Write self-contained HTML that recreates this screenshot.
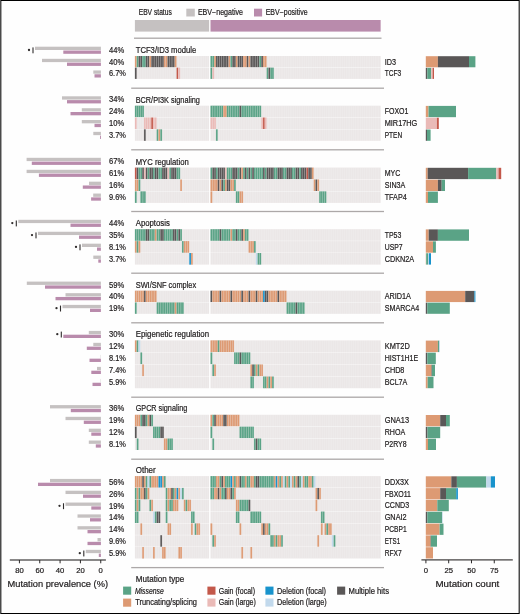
<!DOCTYPE html><html><head><meta charset="utf-8"><style>html,body{margin:0;padding:0;background:#fefefe;}svg{display:block;}text{font-family:"Liberation Sans",sans-serif;fill:#1e1b1c;stroke:#1e1b1c;stroke-width:0.2px;}</style></head><body>
<div style="will-change:transform;width:520px;height:614px;background:#fefefe"><svg width="520" height="614" viewBox="0 0 520 614">
<rect x="0" y="0" width="520" height="614" fill="#fefefe"/>
<text x="138.7" y="14.8" font-size="8.2" textLength="33.1" lengthAdjust="spacingAndGlyphs">EBV status</text>
<rect x="186.3" y="8.7" width="8.5" height="7.8" fill="#c5c1c1"/>
<text x="197.9" y="15.1" font-size="8.2" textLength="45.1" lengthAdjust="spacingAndGlyphs">EBV−negative</text>
<rect x="254" y="8.7" width="8.1" height="7.8" fill="#b98bac"/>
<text x="265.7" y="15.1" font-size="8.2" textLength="41.9" lengthAdjust="spacingAndGlyphs">EBV−positive</text>
<rect x="134.9" y="20" width="74.21" height="11.6" fill="#c5c1c1"/>
<rect x="210.5" y="20" width="170.14" height="11.6" fill="#b98bac"/>
<rect x="134" y="37.55" width="247.5" height="1.3" fill="#aca8a8"/>
<rect x="131.2" y="87.55" width="252.8" height="1.3" fill="#aca8a8"/>
<rect x="131.2" y="149.15" width="252.8" height="1.3" fill="#aca8a8"/>
<rect x="131.2" y="210.85" width="252.8" height="1.3" fill="#aca8a8"/>
<rect x="131.2" y="272.55" width="252.8" height="1.3" fill="#aca8a8"/>
<rect x="131.2" y="322.15" width="252.8" height="1.3" fill="#aca8a8"/>
<rect x="131.2" y="396.55" width="252.8" height="1.3" fill="#aca8a8"/>
<rect x="131.2" y="458.55" width="252.8" height="1.3" fill="#aca8a8"/>
<rect x="131.2" y="566.95" width="252.8" height="1.3" fill="#aca8a8"/>
<text x="135.7" y="52.8" font-size="8.5" textLength="60.6" lengthAdjust="spacingAndGlyphs">TCF3/ID3 module</text>
<rect x="35" y="46.7" width="65.9" height="3.3" fill="#c5c1c1"/>
<rect x="63.3" y="50.5" width="37.6" height="3.3" fill="#b98bac"/>
<text x="109" y="52.7" font-size="8.5" textLength="15.2" lengthAdjust="spacingAndGlyphs">44%</text>
<circle cx="29" cy="50" r="1.15" fill="#2f2c2c"/>
<rect x="32.45" y="47.4" width="1.1" height="5.9" fill="#2f2c2c"/>
<rect x="134.9" y="56" width="74.21" height="11.28" fill="#ebe7e7"/>
<rect x="134.9" y="56" width="1.83" height="11.28" fill="#dd9a73"/>
<rect x="136.71" y="56" width="1.83" height="11.28" fill="#5aa386"/>
<rect x="138.52" y="56" width="1.83" height="11.28" fill="#5a5757"/>
<rect x="140.33" y="56" width="1.83" height="11.28" fill="#5a5757"/>
<rect x="142.14" y="56" width="1.83" height="11.28" fill="#5aa386"/>
<rect x="143.95" y="56" width="1.83" height="11.28" fill="#5aa386"/>
<rect x="145.76" y="56" width="1.83" height="11.28" fill="#5a5757"/>
<rect x="147.57" y="56" width="1.83" height="11.28" fill="#5a5757"/>
<rect x="149.38" y="56" width="1.83" height="11.28" fill="#dd9a73"/>
<rect x="151.19" y="56" width="1.83" height="11.28" fill="#5a5757"/>
<rect x="153" y="56" width="1.83" height="11.28" fill="#5a5757"/>
<rect x="154.81" y="56" width="1.83" height="11.28" fill="#5a5757"/>
<rect x="156.62" y="56" width="1.83" height="11.28" fill="#5a5757"/>
<rect x="158.43" y="56" width="1.83" height="11.28" fill="#5a5757"/>
<rect x="160.24" y="56" width="1.83" height="11.28" fill="#5a5757"/>
<rect x="162.05" y="56" width="1.83" height="11.28" fill="#5a5757"/>
<rect x="163.86" y="56" width="1.83" height="11.28" fill="#dd9a73"/>
<rect x="165.67" y="56" width="1.83" height="11.28" fill="#dd9a73"/>
<rect x="167.48" y="56" width="1.83" height="11.28" fill="#5a5757"/>
<rect x="169.29" y="56" width="1.83" height="11.28" fill="#5a5757"/>
<rect x="171.1" y="56" width="1.83" height="11.28" fill="#5a5757"/>
<rect x="172.91" y="56" width="1.83" height="11.28" fill="#5a5757"/>
<rect x="174.72" y="56" width="1.83" height="11.28" fill="#dd9a73"/>
<rect x="210.5" y="56" width="170.14" height="11.28" fill="#ebe7e7"/>
<rect x="210.5" y="56" width="1.83" height="11.28" fill="#5aa386"/>
<rect x="212.31" y="56" width="1.83" height="11.28" fill="#5aa386"/>
<rect x="214.12" y="56" width="1.83" height="11.28" fill="#dd9a73"/>
<rect x="215.93" y="56" width="1.83" height="11.28" fill="#5a5757"/>
<rect x="217.74" y="56" width="1.83" height="11.28" fill="#5a5757"/>
<rect x="219.55" y="56" width="1.83" height="11.28" fill="#5a5757"/>
<rect x="221.36" y="56" width="1.83" height="11.28" fill="#5a5757"/>
<rect x="223.17" y="56" width="1.83" height="11.28" fill="#5a5757"/>
<rect x="224.98" y="56" width="1.83" height="11.28" fill="#5a5757"/>
<rect x="226.79" y="56" width="1.83" height="11.28" fill="#5a5757"/>
<rect x="228.6" y="56" width="1.83" height="11.28" fill="#dd9a73"/>
<rect x="230.41" y="56" width="1.83" height="11.28" fill="#5aa386"/>
<rect x="232.22" y="56" width="1.83" height="11.28" fill="#5a5757"/>
<rect x="234.03" y="56" width="1.83" height="11.28" fill="#5a5757"/>
<rect x="235.84" y="56" width="1.83" height="11.28" fill="#dd9a73"/>
<rect x="237.65" y="56" width="1.83" height="11.28" fill="#5a5757"/>
<rect x="239.46" y="56" width="1.83" height="11.28" fill="#5a5757"/>
<rect x="241.27" y="56" width="1.83" height="11.28" fill="#5a5757"/>
<rect x="243.08" y="56" width="1.83" height="11.28" fill="#dd9a73"/>
<rect x="244.89" y="56" width="1.83" height="11.28" fill="#dd9a73"/>
<rect x="246.7" y="56" width="1.83" height="11.28" fill="#5a5757"/>
<rect x="248.51" y="56" width="1.83" height="11.28" fill="#dd9a73"/>
<rect x="250.32" y="56" width="1.83" height="11.28" fill="#5a5757"/>
<rect x="252.13" y="56" width="1.83" height="11.28" fill="#5a5757"/>
<rect x="253.94" y="56" width="1.83" height="11.28" fill="#5a5757"/>
<rect x="255.75" y="56" width="1.83" height="11.28" fill="#5a5757"/>
<rect x="257.56" y="56" width="1.83" height="11.28" fill="#5a5757"/>
<rect x="259.37" y="56" width="1.83" height="11.28" fill="#5aa386"/>
<rect x="261.18" y="56" width="1.83" height="11.28" fill="#5a5757"/>
<rect x="262.99" y="56" width="1.83" height="11.28" fill="#dd9a73"/>
<rect x="264.8" y="56" width="1.83" height="11.28" fill="#dd9a73"/>
<text x="384.7" y="64.56" font-size="8.5" textLength="11.3" lengthAdjust="spacingAndGlyphs">ID3</text>
<rect x="42" y="58.81" width="58.9" height="3.3" fill="#c5c1c1"/>
<rect x="67" y="62.61" width="33.9" height="3.3" fill="#b98bac"/>
<text x="109" y="64.81" font-size="8.5" textLength="15.2" lengthAdjust="spacingAndGlyphs">40%</text>
<rect x="425.8" y="56.2" width="12.1" height="11.08" fill="#dd9a73"/>
<rect x="437.9" y="56.2" width="31.1" height="11.08" fill="#5a5757"/>
<rect x="469" y="56.2" width="6.4" height="11.08" fill="#5aa386"/>
<rect x="134.9" y="67.62" width="74.21" height="11.28" fill="#ebe7e7"/>
<rect x="134.9" y="67.62" width="1.83" height="11.28" fill="#5a5757"/>
<rect x="176.53" y="67.62" width="1.83" height="11.28" fill="#c3584a"/>
<rect x="178.34" y="67.62" width="1.83" height="11.28" fill="#eabab7"/>
<rect x="210.5" y="67.62" width="170.14" height="11.28" fill="#ebe7e7"/>
<rect x="210.5" y="67.62" width="1.83" height="11.28" fill="#5aa386"/>
<rect x="212.31" y="67.62" width="1.83" height="11.28" fill="#eabab7"/>
<rect x="266.61" y="67.62" width="1.83" height="11.28" fill="#5aa386"/>
<rect x="268.42" y="67.62" width="1.83" height="11.28" fill="#5a5757"/>
<rect x="270.23" y="67.62" width="1.83" height="11.28" fill="#5aa386"/>
<rect x="272.04" y="67.62" width="1.83" height="11.28" fill="#5aa386"/>
<text x="384.7" y="76.19" font-size="8.5" textLength="16.6" lengthAdjust="spacingAndGlyphs">TCF3</text>
<rect x="93.3" y="70.44" width="7.6" height="3.3" fill="#c5c1c1"/>
<rect x="94.5" y="74.24" width="6.4" height="3.3" fill="#b98bac"/>
<text x="109" y="76.44" font-size="8.5" textLength="16.9" lengthAdjust="spacingAndGlyphs">6.7%</text>
<rect x="425.8" y="67.83" width="1.5" height="11.08" fill="#5a5757"/>
<rect x="427.3" y="67.83" width="3.9" height="11.08" fill="#5aa386"/>
<rect x="431.2" y="67.83" width="1.4" height="11.08" fill="#eabab7"/>
<rect x="432.6" y="67.83" width="1.4" height="11.08" fill="#c3584a"/>
<text x="135.7" y="102.9" font-size="8.5" textLength="64.2" lengthAdjust="spacingAndGlyphs">BCR/PI3K signaling</text>
<rect x="62" y="96.3" width="38.9" height="3.3" fill="#c5c1c1"/>
<rect x="67" y="100.1" width="33.9" height="3.3" fill="#b98bac"/>
<text x="109" y="102.3" font-size="8.5" textLength="15.2" lengthAdjust="spacingAndGlyphs">34%</text>
<rect x="134.9" y="105.7" width="74.21" height="11.47" fill="#ebe7e7"/>
<rect x="134.9" y="105.7" width="1.83" height="11.47" fill="#5aa386"/>
<rect x="136.71" y="105.7" width="1.83" height="11.47" fill="#5aa386"/>
<rect x="138.52" y="105.7" width="1.83" height="11.47" fill="#5aa386"/>
<rect x="140.33" y="105.7" width="1.83" height="11.47" fill="#5aa386"/>
<rect x="142.14" y="105.7" width="1.83" height="11.47" fill="#5aa386"/>
<rect x="210.5" y="105.7" width="170.14" height="11.47" fill="#ebe7e7"/>
<rect x="210.5" y="105.7" width="1.83" height="11.47" fill="#5aa386"/>
<rect x="212.31" y="105.7" width="1.83" height="11.47" fill="#5aa386"/>
<rect x="214.12" y="105.7" width="1.83" height="11.47" fill="#5aa386"/>
<rect x="215.93" y="105.7" width="1.83" height="11.47" fill="#5aa386"/>
<rect x="217.74" y="105.7" width="1.83" height="11.47" fill="#5aa386"/>
<rect x="219.55" y="105.7" width="1.83" height="11.47" fill="#5aa386"/>
<rect x="221.36" y="105.7" width="1.83" height="11.47" fill="#5aa386"/>
<rect x="223.17" y="105.7" width="1.83" height="11.47" fill="#dd9a73"/>
<rect x="224.98" y="105.7" width="1.83" height="11.47" fill="#dd9a73"/>
<rect x="226.79" y="105.7" width="1.83" height="11.47" fill="#5aa386"/>
<rect x="228.6" y="105.7" width="1.83" height="11.47" fill="#5aa386"/>
<rect x="230.41" y="105.7" width="1.83" height="11.47" fill="#5aa386"/>
<rect x="232.22" y="105.7" width="1.83" height="11.47" fill="#5aa386"/>
<rect x="234.03" y="105.7" width="1.83" height="11.47" fill="#5aa386"/>
<rect x="235.84" y="105.7" width="1.83" height="11.47" fill="#5aa386"/>
<rect x="237.65" y="105.7" width="1.83" height="11.47" fill="#5aa386"/>
<rect x="239.46" y="105.7" width="1.83" height="11.47" fill="#5a5757"/>
<rect x="241.27" y="105.7" width="1.83" height="11.47" fill="#5aa386"/>
<rect x="243.08" y="105.7" width="1.83" height="11.47" fill="#5aa386"/>
<rect x="244.89" y="105.7" width="1.83" height="11.47" fill="#5aa386"/>
<rect x="246.7" y="105.7" width="1.83" height="11.47" fill="#5aa386"/>
<rect x="248.51" y="105.7" width="1.83" height="11.47" fill="#5aa386"/>
<rect x="250.32" y="105.7" width="1.83" height="11.47" fill="#5aa386"/>
<rect x="252.13" y="105.7" width="1.83" height="11.47" fill="#5aa386"/>
<rect x="253.94" y="105.7" width="1.83" height="11.47" fill="#5aa386"/>
<rect x="255.75" y="105.7" width="1.83" height="11.47" fill="#5aa386"/>
<rect x="257.56" y="105.7" width="1.83" height="11.47" fill="#5aa386"/>
<rect x="259.37" y="105.7" width="1.83" height="11.47" fill="#5aa386"/>
<text x="384.7" y="114.36" font-size="8.5" textLength="23.7" lengthAdjust="spacingAndGlyphs">FOXO1</text>
<rect x="81.8" y="108.21" width="19.1" height="3.3" fill="#c5c1c1"/>
<rect x="70.5" y="112.01" width="30.4" height="3.3" fill="#b98bac"/>
<text x="109" y="114.21" font-size="8.5" textLength="15.2" lengthAdjust="spacingAndGlyphs">24%</text>
<rect x="425.8" y="105.9" width="2.7" height="11.27" fill="#dd9a73"/>
<rect x="428.5" y="105.9" width="27.5" height="11.27" fill="#5aa386"/>
<rect x="134.9" y="117.52" width="74.21" height="11.47" fill="#ebe7e7"/>
<rect x="134.9" y="117.52" width="1.83" height="11.47" fill="#eabab7"/>
<rect x="143.95" y="117.52" width="1.83" height="11.47" fill="#eabab7"/>
<rect x="145.76" y="117.52" width="1.83" height="11.47" fill="#eabab7"/>
<rect x="147.57" y="117.52" width="1.83" height="11.47" fill="#eabab7"/>
<rect x="149.38" y="117.52" width="1.83" height="11.47" fill="#eabab7"/>
<rect x="151.19" y="117.52" width="1.83" height="11.47" fill="#c3584a"/>
<rect x="153" y="117.52" width="1.83" height="11.47" fill="#eabab7"/>
<rect x="154.81" y="117.52" width="1.83" height="11.47" fill="#eabab7"/>
<rect x="210.5" y="117.52" width="170.14" height="11.47" fill="#ebe7e7"/>
<rect x="210.5" y="117.52" width="1.83" height="11.47" fill="#eabab7"/>
<rect x="212.31" y="117.52" width="1.83" height="11.47" fill="#eabab7"/>
<rect x="214.12" y="117.52" width="1.83" height="11.47" fill="#eabab7"/>
<rect x="261.18" y="117.52" width="1.83" height="11.47" fill="#eabab7"/>
<rect x="262.99" y="117.52" width="1.83" height="11.47" fill="#c3584a"/>
<rect x="264.8" y="117.52" width="1.83" height="11.47" fill="#eabab7"/>
<text x="384.7" y="126.18" font-size="8.5" textLength="32.6" lengthAdjust="spacingAndGlyphs">MIR17HG</text>
<rect x="81.8" y="120.03" width="19.1" height="3.3" fill="#c5c1c1"/>
<rect x="94.5" y="123.83" width="6.4" height="3.3" fill="#b98bac"/>
<text x="109" y="126.03" font-size="8.5" textLength="15.2" lengthAdjust="spacingAndGlyphs">10%</text>
<rect x="425.8" y="117.72" width="11.1" height="11.27" fill="#eabab7"/>
<rect x="436.9" y="117.72" width="1.9" height="11.27" fill="#c3584a"/>
<rect x="134.9" y="129.33" width="74.21" height="11.47" fill="#ebe7e7"/>
<rect x="143.95" y="129.33" width="1.83" height="11.47" fill="#5a5757"/>
<rect x="156.62" y="129.33" width="1.83" height="11.47" fill="#5aa386"/>
<rect x="158.43" y="129.33" width="1.83" height="11.47" fill="#dd9a73"/>
<rect x="160.24" y="129.33" width="1.83" height="11.47" fill="#5aa386"/>
<rect x="210.5" y="129.33" width="170.14" height="11.47" fill="#ebe7e7"/>
<rect x="215.93" y="129.33" width="1.83" height="11.47" fill="#5aa386"/>
<text x="384.7" y="137.99" font-size="8.5" textLength="17.4" lengthAdjust="spacingAndGlyphs">PTEN</text>
<rect x="93.3" y="131.84" width="7.6" height="3.3" fill="#c5c1c1"/>
<rect x="100" y="135.64" width="0.9" height="3.3" fill="#b98bac"/>
<text x="109" y="137.84" font-size="8.5" textLength="16.9" lengthAdjust="spacingAndGlyphs">3.7%</text>
<rect x="425.8" y="129.53" width="1.2" height="11.27" fill="#5a5757"/>
<rect x="427" y="129.53" width="3.6" height="11.27" fill="#5aa386"/>
<text x="135.7" y="164.5" font-size="8.5" textLength="53" lengthAdjust="spacingAndGlyphs">MYC regulation</text>
<rect x="26.6" y="157.8" width="74.3" height="3.3" fill="#c5c1c1"/>
<rect x="31.8" y="161.6" width="69.1" height="3.3" fill="#b98bac"/>
<text x="109" y="163.8" font-size="8.5" textLength="15.2" lengthAdjust="spacingAndGlyphs">67%</text>
<rect x="134.9" y="167.6" width="74.21" height="11.53" fill="#ebe7e7"/>
<rect x="134.9" y="167.6" width="1.83" height="11.53" fill="#c3584a"/>
<rect x="136.71" y="167.6" width="1.83" height="11.53" fill="#5a5757"/>
<rect x="138.52" y="167.6" width="1.83" height="11.53" fill="#5aa386"/>
<rect x="140.33" y="167.6" width="1.83" height="11.53" fill="#5aa386"/>
<rect x="142.14" y="167.6" width="1.83" height="11.53" fill="#5a5757"/>
<rect x="143.95" y="167.6" width="1.83" height="11.53" fill="#eabab7"/>
<rect x="145.76" y="167.6" width="1.83" height="11.53" fill="#5a5757"/>
<rect x="147.57" y="167.6" width="1.83" height="11.53" fill="#5aa386"/>
<rect x="149.38" y="167.6" width="1.83" height="11.53" fill="#5a5757"/>
<rect x="151.19" y="167.6" width="1.83" height="11.53" fill="#5a5757"/>
<rect x="153" y="167.6" width="1.83" height="11.53" fill="#5aa386"/>
<rect x="154.81" y="167.6" width="1.83" height="11.53" fill="#5a5757"/>
<rect x="156.62" y="167.6" width="1.83" height="11.53" fill="#5a5757"/>
<rect x="158.43" y="167.6" width="1.83" height="11.53" fill="#5aa386"/>
<rect x="160.24" y="167.6" width="1.83" height="11.53" fill="#5aa386"/>
<rect x="162.05" y="167.6" width="1.83" height="11.53" fill="#5a5757"/>
<rect x="163.86" y="167.6" width="1.83" height="11.53" fill="#5a5757"/>
<rect x="165.67" y="167.6" width="1.83" height="11.53" fill="#5a5757"/>
<rect x="167.48" y="167.6" width="1.83" height="11.53" fill="#eabab7"/>
<rect x="169.29" y="167.6" width="1.83" height="11.53" fill="#5aa386"/>
<rect x="171.1" y="167.6" width="1.83" height="11.53" fill="#5a5757"/>
<rect x="172.91" y="167.6" width="1.83" height="11.53" fill="#5a5757"/>
<rect x="174.72" y="167.6" width="1.83" height="11.53" fill="#5a5757"/>
<rect x="176.53" y="167.6" width="1.83" height="11.53" fill="#5aa386"/>
<rect x="178.34" y="167.6" width="1.83" height="11.53" fill="#5aa386"/>
<rect x="210.5" y="167.6" width="170.14" height="11.53" fill="#ebe7e7"/>
<rect x="210.5" y="167.6" width="1.83" height="11.53" fill="#5aa386"/>
<rect x="212.31" y="167.6" width="1.83" height="11.53" fill="#5a5757"/>
<rect x="214.12" y="167.6" width="1.83" height="11.53" fill="#5a5757"/>
<rect x="215.93" y="167.6" width="1.83" height="11.53" fill="#5aa386"/>
<rect x="217.74" y="167.6" width="1.83" height="11.53" fill="#5a5757"/>
<rect x="219.55" y="167.6" width="1.83" height="11.53" fill="#5a5757"/>
<rect x="221.36" y="167.6" width="1.83" height="11.53" fill="#5a5757"/>
<rect x="223.17" y="167.6" width="1.83" height="11.53" fill="#5a5757"/>
<rect x="224.98" y="167.6" width="1.83" height="11.53" fill="#eabab7"/>
<rect x="226.79" y="167.6" width="1.83" height="11.53" fill="#5aa386"/>
<rect x="228.6" y="167.6" width="1.83" height="11.53" fill="#5aa386"/>
<rect x="230.41" y="167.6" width="1.83" height="11.53" fill="#5aa386"/>
<rect x="232.22" y="167.6" width="1.83" height="11.53" fill="#5a5757"/>
<rect x="234.03" y="167.6" width="1.83" height="11.53" fill="#5a5757"/>
<rect x="235.84" y="167.6" width="1.83" height="11.53" fill="#5a5757"/>
<rect x="237.65" y="167.6" width="1.83" height="11.53" fill="#5aa386"/>
<rect x="239.46" y="167.6" width="1.83" height="11.53" fill="#5a5757"/>
<rect x="241.27" y="167.6" width="1.83" height="11.53" fill="#dd9a73"/>
<rect x="243.08" y="167.6" width="1.83" height="11.53" fill="#5aa386"/>
<rect x="244.89" y="167.6" width="1.83" height="11.53" fill="#5a5757"/>
<rect x="246.7" y="167.6" width="1.83" height="11.53" fill="#5aa386"/>
<rect x="248.51" y="167.6" width="1.83" height="11.53" fill="#5a5757"/>
<rect x="250.32" y="167.6" width="1.83" height="11.53" fill="#5aa386"/>
<rect x="252.13" y="167.6" width="1.83" height="11.53" fill="#5a5757"/>
<rect x="253.94" y="167.6" width="1.83" height="11.53" fill="#5aa386"/>
<rect x="255.75" y="167.6" width="1.83" height="11.53" fill="#5aa386"/>
<rect x="257.56" y="167.6" width="1.83" height="11.53" fill="#5aa386"/>
<rect x="259.37" y="167.6" width="1.83" height="11.53" fill="#5aa386"/>
<rect x="261.18" y="167.6" width="1.83" height="11.53" fill="#5aa386"/>
<rect x="262.99" y="167.6" width="1.83" height="11.53" fill="#5a5757"/>
<rect x="264.8" y="167.6" width="1.83" height="11.53" fill="#5aa386"/>
<rect x="266.61" y="167.6" width="1.83" height="11.53" fill="#5a5757"/>
<rect x="268.42" y="167.6" width="1.83" height="11.53" fill="#5a5757"/>
<rect x="270.23" y="167.6" width="1.83" height="11.53" fill="#5a5757"/>
<rect x="272.04" y="167.6" width="1.83" height="11.53" fill="#5a5757"/>
<rect x="273.85" y="167.6" width="1.83" height="11.53" fill="#5aa386"/>
<rect x="275.66" y="167.6" width="1.83" height="11.53" fill="#5aa386"/>
<rect x="277.47" y="167.6" width="1.83" height="11.53" fill="#5a5757"/>
<rect x="279.28" y="167.6" width="1.83" height="11.53" fill="#5a5757"/>
<rect x="281.09" y="167.6" width="1.83" height="11.53" fill="#5a5757"/>
<rect x="282.9" y="167.6" width="1.83" height="11.53" fill="#5aa386"/>
<rect x="284.71" y="167.6" width="1.83" height="11.53" fill="#5aa386"/>
<rect x="286.52" y="167.6" width="1.83" height="11.53" fill="#5a5757"/>
<rect x="288.33" y="167.6" width="1.83" height="11.53" fill="#5a5757"/>
<rect x="290.14" y="167.6" width="1.83" height="11.53" fill="#5a5757"/>
<rect x="291.95" y="167.6" width="1.83" height="11.53" fill="#5aa386"/>
<rect x="293.76" y="167.6" width="1.83" height="11.53" fill="#5aa386"/>
<rect x="295.57" y="167.6" width="1.83" height="11.53" fill="#5a5757"/>
<rect x="297.38" y="167.6" width="1.83" height="11.53" fill="#5a5757"/>
<rect x="299.19" y="167.6" width="1.83" height="11.53" fill="#5aa386"/>
<rect x="301" y="167.6" width="1.83" height="11.53" fill="#5a5757"/>
<rect x="302.81" y="167.6" width="1.83" height="11.53" fill="#5a5757"/>
<rect x="304.62" y="167.6" width="1.83" height="11.53" fill="#5a5757"/>
<rect x="306.43" y="167.6" width="1.83" height="11.53" fill="#c3584a"/>
<rect x="308.24" y="167.6" width="1.83" height="11.53" fill="#5a5757"/>
<rect x="310.05" y="167.6" width="1.83" height="11.53" fill="#5a5757"/>
<rect x="311.86" y="167.6" width="1.83" height="11.53" fill="#dd9a73"/>
<text x="384.7" y="176.29" font-size="8.5" textLength="15.6" lengthAdjust="spacingAndGlyphs">MYC</text>
<rect x="26.6" y="169.79" width="74.3" height="3.3" fill="#c5c1c1"/>
<rect x="38.9" y="173.59" width="62" height="3.3" fill="#b98bac"/>
<text x="109" y="175.79" font-size="8.5" textLength="15.2" lengthAdjust="spacingAndGlyphs">61%</text>
<rect x="425.8" y="167.8" width="1.9" height="11.33" fill="#dd9a73"/>
<rect x="427.7" y="167.8" width="40.4" height="11.33" fill="#5a5757"/>
<rect x="468.1" y="167.8" width="28.2" height="11.33" fill="#5aa386"/>
<rect x="496.3" y="167.8" width="2.2" height="11.33" fill="#eabab7"/>
<rect x="498.5" y="167.8" width="2.7" height="11.33" fill="#c3584a"/>
<rect x="134.9" y="179.48" width="74.21" height="11.53" fill="#ebe7e7"/>
<rect x="134.9" y="179.48" width="1.83" height="11.53" fill="#dd9a73"/>
<rect x="136.71" y="179.48" width="1.83" height="11.53" fill="#dd9a73"/>
<rect x="138.52" y="179.48" width="1.83" height="11.53" fill="#5aa386"/>
<rect x="180.15" y="179.48" width="1.83" height="11.53" fill="#dd9a73"/>
<rect x="210.5" y="179.48" width="170.14" height="11.53" fill="#ebe7e7"/>
<rect x="210.5" y="179.48" width="1.83" height="11.53" fill="#dd9a73"/>
<rect x="212.31" y="179.48" width="1.83" height="11.53" fill="#dd9a73"/>
<rect x="214.12" y="179.48" width="1.83" height="11.53" fill="#dd9a73"/>
<rect x="215.93" y="179.48" width="1.83" height="11.53" fill="#dd9a73"/>
<rect x="217.74" y="179.48" width="1.83" height="11.53" fill="#5a5757"/>
<rect x="219.55" y="179.48" width="1.83" height="11.53" fill="#dd9a73"/>
<rect x="221.36" y="179.48" width="1.83" height="11.53" fill="#5a5757"/>
<rect x="223.17" y="179.48" width="1.83" height="11.53" fill="#5aa386"/>
<rect x="224.98" y="179.48" width="1.83" height="11.53" fill="#dd9a73"/>
<rect x="226.79" y="179.48" width="1.83" height="11.53" fill="#5a5757"/>
<rect x="228.6" y="179.48" width="1.83" height="11.53" fill="#5a5757"/>
<rect x="230.41" y="179.48" width="1.83" height="11.53" fill="#dd9a73"/>
<rect x="232.22" y="179.48" width="1.83" height="11.53" fill="#dd9a73"/>
<rect x="234.03" y="179.48" width="1.83" height="11.53" fill="#5aa386"/>
<rect x="313.67" y="179.48" width="1.83" height="11.53" fill="#dd9a73"/>
<rect x="315.48" y="179.48" width="1.83" height="11.53" fill="#5a5757"/>
<rect x="317.29" y="179.48" width="1.83" height="11.53" fill="#dd9a73"/>
<text x="384.7" y="188.17" font-size="8.5" textLength="20.6" lengthAdjust="spacingAndGlyphs">SIN3A</text>
<rect x="89" y="181.67" width="11.9" height="3.3" fill="#c5c1c1"/>
<rect x="82.8" y="185.47" width="18.1" height="3.3" fill="#b98bac"/>
<text x="109" y="187.67" font-size="8.5" textLength="15.2" lengthAdjust="spacingAndGlyphs">16%</text>
<rect x="425.8" y="179.68" width="12.1" height="11.33" fill="#dd9a73"/>
<rect x="437.9" y="179.68" width="3.8" height="11.33" fill="#5a5757"/>
<rect x="441.7" y="179.68" width="3.3" height="11.33" fill="#5aa386"/>
<rect x="134.9" y="191.37" width="74.21" height="11.53" fill="#ebe7e7"/>
<rect x="134.9" y="191.37" width="1.83" height="11.53" fill="#5aa386"/>
<rect x="140.33" y="191.37" width="1.83" height="11.53" fill="#5aa386"/>
<rect x="142.14" y="191.37" width="1.83" height="11.53" fill="#5aa386"/>
<rect x="143.95" y="191.37" width="1.83" height="11.53" fill="#5aa386"/>
<rect x="210.5" y="191.37" width="170.14" height="11.53" fill="#ebe7e7"/>
<rect x="210.5" y="191.37" width="1.83" height="11.53" fill="#dd9a73"/>
<rect x="235.84" y="191.37" width="1.83" height="11.53" fill="#5aa386"/>
<rect x="237.65" y="191.37" width="1.83" height="11.53" fill="#5aa386"/>
<rect x="239.46" y="191.37" width="1.83" height="11.53" fill="#dd9a73"/>
<rect x="241.27" y="191.37" width="1.83" height="11.53" fill="#dd9a73"/>
<rect x="319.1" y="191.37" width="1.83" height="11.53" fill="#5aa386"/>
<rect x="320.91" y="191.37" width="1.83" height="11.53" fill="#5aa386"/>
<rect x="322.72" y="191.37" width="1.83" height="11.53" fill="#5aa386"/>
<rect x="324.53" y="191.37" width="1.83" height="11.53" fill="#5aa386"/>
<text x="384.7" y="200.06" font-size="8.5" textLength="22" lengthAdjust="spacingAndGlyphs">TFAP4</text>
<rect x="93.2" y="193.56" width="7.7" height="3.3" fill="#c5c1c1"/>
<rect x="91.1" y="197.36" width="9.8" height="3.3" fill="#b98bac"/>
<text x="109" y="199.56" font-size="8.5" textLength="16.9" lengthAdjust="spacingAndGlyphs">9.6%</text>
<rect x="425.8" y="191.57" width="2.2" height="11.33" fill="#dd9a73"/>
<rect x="428" y="191.57" width="9.9" height="11.33" fill="#5aa386"/>
<text x="135.7" y="225.5" font-size="8.5" textLength="34.2" lengthAdjust="spacingAndGlyphs">Apoptosis</text>
<rect x="18.3" y="219.8" width="82.6" height="3.3" fill="#c5c1c1"/>
<rect x="70.5" y="223.6" width="30.4" height="3.3" fill="#b98bac"/>
<text x="109" y="225.8" font-size="8.5" textLength="15.2" lengthAdjust="spacingAndGlyphs">44%</text>
<circle cx="12.3" cy="223.1" r="1.15" fill="#2f2c2c"/>
<rect x="15.75" y="220.5" width="1.1" height="5.9" fill="#2f2c2c"/>
<rect x="134.9" y="229.2" width="74.21" height="11.57" fill="#ebe7e7"/>
<rect x="134.9" y="229.2" width="1.83" height="11.57" fill="#5aa386"/>
<rect x="136.71" y="229.2" width="1.83" height="11.57" fill="#5aa386"/>
<rect x="138.52" y="229.2" width="1.83" height="11.57" fill="#5aa386"/>
<rect x="140.33" y="229.2" width="1.83" height="11.57" fill="#5aa386"/>
<rect x="142.14" y="229.2" width="1.83" height="11.57" fill="#5aa386"/>
<rect x="143.95" y="229.2" width="1.83" height="11.57" fill="#5aa386"/>
<rect x="145.76" y="229.2" width="1.83" height="11.57" fill="#5a5757"/>
<rect x="147.57" y="229.2" width="1.83" height="11.57" fill="#5a5757"/>
<rect x="149.38" y="229.2" width="1.83" height="11.57" fill="#5aa386"/>
<rect x="151.19" y="229.2" width="1.83" height="11.57" fill="#5aa386"/>
<rect x="153" y="229.2" width="1.83" height="11.57" fill="#5aa386"/>
<rect x="154.81" y="229.2" width="1.83" height="11.57" fill="#dd9a73"/>
<rect x="156.62" y="229.2" width="1.83" height="11.57" fill="#5aa386"/>
<rect x="158.43" y="229.2" width="1.83" height="11.57" fill="#5aa386"/>
<rect x="160.24" y="229.2" width="1.83" height="11.57" fill="#5a5757"/>
<rect x="162.05" y="229.2" width="1.83" height="11.57" fill="#5a5757"/>
<rect x="163.86" y="229.2" width="1.83" height="11.57" fill="#5aa386"/>
<rect x="165.67" y="229.2" width="1.83" height="11.57" fill="#5aa386"/>
<rect x="167.48" y="229.2" width="1.83" height="11.57" fill="#5aa386"/>
<rect x="169.29" y="229.2" width="1.83" height="11.57" fill="#5aa386"/>
<rect x="171.1" y="229.2" width="1.83" height="11.57" fill="#5aa386"/>
<rect x="172.91" y="229.2" width="1.83" height="11.57" fill="#5a5757"/>
<rect x="174.72" y="229.2" width="1.83" height="11.57" fill="#5a5757"/>
<rect x="176.53" y="229.2" width="1.83" height="11.57" fill="#5aa386"/>
<rect x="178.34" y="229.2" width="1.83" height="11.57" fill="#5a5757"/>
<rect x="180.15" y="229.2" width="1.83" height="11.57" fill="#5aa386"/>
<rect x="210.5" y="229.2" width="170.14" height="11.57" fill="#ebe7e7"/>
<rect x="210.5" y="229.2" width="1.83" height="11.57" fill="#5aa386"/>
<rect x="212.31" y="229.2" width="1.83" height="11.57" fill="#5aa386"/>
<rect x="214.12" y="229.2" width="1.83" height="11.57" fill="#5aa386"/>
<rect x="215.93" y="229.2" width="1.83" height="11.57" fill="#5aa386"/>
<rect x="217.74" y="229.2" width="1.83" height="11.57" fill="#5aa386"/>
<rect x="219.55" y="229.2" width="1.83" height="11.57" fill="#5a5757"/>
<rect x="221.36" y="229.2" width="1.83" height="11.57" fill="#5aa386"/>
<rect x="223.17" y="229.2" width="1.83" height="11.57" fill="#5aa386"/>
<rect x="224.98" y="229.2" width="1.83" height="11.57" fill="#5aa386"/>
<rect x="226.79" y="229.2" width="1.83" height="11.57" fill="#5aa386"/>
<rect x="228.6" y="229.2" width="1.83" height="11.57" fill="#5aa386"/>
<rect x="230.41" y="229.2" width="1.83" height="11.57" fill="#dd9a73"/>
<rect x="232.22" y="229.2" width="1.83" height="11.57" fill="#5aa386"/>
<rect x="234.03" y="229.2" width="1.83" height="11.57" fill="#5aa386"/>
<rect x="235.84" y="229.2" width="1.83" height="11.57" fill="#5a5757"/>
<rect x="237.65" y="229.2" width="1.83" height="11.57" fill="#5aa386"/>
<rect x="239.46" y="229.2" width="1.83" height="11.57" fill="#5aa386"/>
<rect x="241.27" y="229.2" width="1.83" height="11.57" fill="#5a5757"/>
<rect x="243.08" y="229.2" width="1.83" height="11.57" fill="#dd9a73"/>
<rect x="244.89" y="229.2" width="1.83" height="11.57" fill="#5aa386"/>
<rect x="246.7" y="229.2" width="1.83" height="11.57" fill="#5aa386"/>
<text x="384.7" y="237.91" font-size="8.5" textLength="16.6" lengthAdjust="spacingAndGlyphs">TP53</text>
<rect x="38" y="231.76" width="62.9" height="3.3" fill="#c5c1c1"/>
<rect x="79" y="235.56" width="21.9" height="3.3" fill="#b98bac"/>
<text x="109" y="237.76" font-size="8.5" textLength="15.2" lengthAdjust="spacingAndGlyphs">35%</text>
<circle cx="32" cy="235.06" r="1.15" fill="#2f2c2c"/>
<rect x="35.45" y="232.46" width="1.1" height="5.9" fill="#2f2c2c"/>
<rect x="425.8" y="229.4" width="2.9" height="11.37" fill="#dd9a73"/>
<rect x="428.7" y="229.4" width="9.2" height="11.37" fill="#5a5757"/>
<rect x="437.9" y="229.4" width="31.1" height="11.37" fill="#5aa386"/>
<rect x="134.9" y="241.12" width="74.21" height="11.57" fill="#ebe7e7"/>
<rect x="134.9" y="241.12" width="1.83" height="11.57" fill="#dd9a73"/>
<rect x="136.71" y="241.12" width="1.83" height="11.57" fill="#5aa386"/>
<rect x="138.52" y="241.12" width="1.83" height="11.57" fill="#dd9a73"/>
<rect x="181.96" y="241.12" width="1.83" height="11.57" fill="#5aa386"/>
<rect x="183.77" y="241.12" width="1.83" height="11.57" fill="#dd9a73"/>
<rect x="185.58" y="241.12" width="1.83" height="11.57" fill="#dd9a73"/>
<rect x="187.39" y="241.12" width="1.83" height="11.57" fill="#dd9a73"/>
<rect x="210.5" y="241.12" width="170.14" height="11.57" fill="#ebe7e7"/>
<rect x="248.51" y="241.12" width="1.83" height="11.57" fill="#dd9a73"/>
<rect x="250.32" y="241.12" width="1.83" height="11.57" fill="#dd9a73"/>
<rect x="252.13" y="241.12" width="1.83" height="11.57" fill="#dd9a73"/>
<rect x="253.94" y="241.12" width="1.83" height="11.57" fill="#5aa386"/>
<text x="384.7" y="249.83" font-size="8.5" textLength="17.9" lengthAdjust="spacingAndGlyphs">USP7</text>
<rect x="82" y="243.68" width="18.9" height="3.3" fill="#c5c1c1"/>
<rect x="97" y="247.47" width="3.9" height="3.3" fill="#b98bac"/>
<text x="109" y="249.68" font-size="8.5" textLength="16.9" lengthAdjust="spacingAndGlyphs">8.1%</text>
<circle cx="76" cy="246.97" r="1.15" fill="#2f2c2c"/>
<rect x="79.45" y="244.38" width="1.1" height="5.9" fill="#2f2c2c"/>
<rect x="425.8" y="241.32" width="7.2" height="11.37" fill="#dd9a73"/>
<rect x="433" y="241.32" width="2.9" height="11.37" fill="#5aa386"/>
<rect x="134.9" y="253.03" width="74.21" height="11.57" fill="#ebe7e7"/>
<rect x="189.2" y="253.03" width="1.83" height="11.57" fill="#1893cc"/>
<rect x="191.01" y="253.03" width="1.83" height="11.57" fill="#dd9a73"/>
<rect x="210.5" y="253.03" width="170.14" height="11.57" fill="#ebe7e7"/>
<rect x="255.75" y="253.03" width="1.83" height="11.57" fill="#c2d9ec"/>
<rect x="257.56" y="253.03" width="1.83" height="11.57" fill="#5aa386"/>
<rect x="259.37" y="253.03" width="1.83" height="11.57" fill="#5aa386"/>
<text x="384.7" y="261.74" font-size="8.5" textLength="29.5" lengthAdjust="spacingAndGlyphs">CDKN2A</text>
<rect x="93.3" y="255.59" width="7.6" height="3.3" fill="#c5c1c1"/>
<rect x="98.3" y="259.39" width="2.6" height="3.3" fill="#b98bac"/>
<text x="109" y="261.59" font-size="8.5" textLength="16.9" lengthAdjust="spacingAndGlyphs">3.7%</text>
<rect x="425.8" y="253.23" width="0.4" height="11.37" fill="#dd9a73"/>
<rect x="426.2" y="253.23" width="1.9" height="11.37" fill="#5aa386"/>
<rect x="428.1" y="253.23" width="0.8" height="11.37" fill="#c2d9ec"/>
<rect x="428.9" y="253.23" width="2.1" height="11.37" fill="#1893cc"/>
<text x="135.7" y="287.5" font-size="8.5" textLength="60.5" lengthAdjust="spacingAndGlyphs">SWI/SNF complex</text>
<rect x="26.8" y="281.6" width="74.1" height="3.3" fill="#c5c1c1"/>
<rect x="45" y="285.4" width="55.9" height="3.3" fill="#b98bac"/>
<text x="109" y="287.6" font-size="8.5" textLength="15.2" lengthAdjust="spacingAndGlyphs">59%</text>
<rect x="134.9" y="290.7" width="74.21" height="11.38" fill="#ebe7e7"/>
<rect x="134.9" y="290.7" width="1.83" height="11.38" fill="#dd9a73"/>
<rect x="136.71" y="290.7" width="1.83" height="11.38" fill="#dd9a73"/>
<rect x="138.52" y="290.7" width="1.83" height="11.38" fill="#dd9a73"/>
<rect x="140.33" y="290.7" width="1.83" height="11.38" fill="#dd9a73"/>
<rect x="142.14" y="290.7" width="1.83" height="11.38" fill="#dd9a73"/>
<rect x="143.95" y="290.7" width="1.83" height="11.38" fill="#5a5757"/>
<rect x="145.76" y="290.7" width="1.83" height="11.38" fill="#dd9a73"/>
<rect x="147.57" y="290.7" width="1.83" height="11.38" fill="#dd9a73"/>
<rect x="149.38" y="290.7" width="1.83" height="11.38" fill="#dd9a73"/>
<rect x="151.19" y="290.7" width="1.83" height="11.38" fill="#dd9a73"/>
<rect x="153" y="290.7" width="1.83" height="11.38" fill="#dd9a73"/>
<rect x="154.81" y="290.7" width="1.83" height="11.38" fill="#dd9a73"/>
<rect x="210.5" y="290.7" width="170.14" height="11.38" fill="#ebe7e7"/>
<rect x="210.5" y="290.7" width="1.83" height="11.38" fill="#5a5757"/>
<rect x="212.31" y="290.7" width="1.83" height="11.38" fill="#dd9a73"/>
<rect x="214.12" y="290.7" width="1.83" height="11.38" fill="#dd9a73"/>
<rect x="215.93" y="290.7" width="1.83" height="11.38" fill="#dd9a73"/>
<rect x="217.74" y="290.7" width="1.83" height="11.38" fill="#dd9a73"/>
<rect x="219.55" y="290.7" width="1.83" height="11.38" fill="#5a5757"/>
<rect x="221.36" y="290.7" width="1.83" height="11.38" fill="#dd9a73"/>
<rect x="223.17" y="290.7" width="1.83" height="11.38" fill="#dd9a73"/>
<rect x="224.98" y="290.7" width="1.83" height="11.38" fill="#dd9a73"/>
<rect x="226.79" y="290.7" width="1.83" height="11.38" fill="#dd9a73"/>
<rect x="228.6" y="290.7" width="1.83" height="11.38" fill="#dd9a73"/>
<rect x="230.41" y="290.7" width="1.83" height="11.38" fill="#5a5757"/>
<rect x="232.22" y="290.7" width="1.83" height="11.38" fill="#dd9a73"/>
<rect x="234.03" y="290.7" width="1.83" height="11.38" fill="#dd9a73"/>
<rect x="235.84" y="290.7" width="1.83" height="11.38" fill="#dd9a73"/>
<rect x="237.65" y="290.7" width="1.83" height="11.38" fill="#dd9a73"/>
<rect x="239.46" y="290.7" width="1.83" height="11.38" fill="#dd9a73"/>
<rect x="241.27" y="290.7" width="1.83" height="11.38" fill="#5a5757"/>
<rect x="243.08" y="290.7" width="1.83" height="11.38" fill="#dd9a73"/>
<rect x="244.89" y="290.7" width="1.83" height="11.38" fill="#dd9a73"/>
<rect x="246.7" y="290.7" width="1.83" height="11.38" fill="#dd9a73"/>
<rect x="248.51" y="290.7" width="1.83" height="11.38" fill="#5a5757"/>
<rect x="250.32" y="290.7" width="1.83" height="11.38" fill="#dd9a73"/>
<rect x="252.13" y="290.7" width="1.83" height="11.38" fill="#dd9a73"/>
<rect x="253.94" y="290.7" width="1.83" height="11.38" fill="#dd9a73"/>
<rect x="255.75" y="290.7" width="1.83" height="11.38" fill="#5a5757"/>
<rect x="257.56" y="290.7" width="1.83" height="11.38" fill="#dd9a73"/>
<rect x="259.37" y="290.7" width="1.83" height="11.38" fill="#dd9a73"/>
<rect x="261.18" y="290.7" width="1.83" height="11.38" fill="#dd9a73"/>
<rect x="262.99" y="290.7" width="1.83" height="11.38" fill="#1893cc"/>
<rect x="264.8" y="290.7" width="1.83" height="11.38" fill="#5a5757"/>
<rect x="266.61" y="290.7" width="1.83" height="11.38" fill="#5a5757"/>
<rect x="268.42" y="290.7" width="1.83" height="11.38" fill="#dd9a73"/>
<rect x="270.23" y="290.7" width="1.83" height="11.38" fill="#dd9a73"/>
<rect x="272.04" y="290.7" width="1.83" height="11.38" fill="#dd9a73"/>
<rect x="273.85" y="290.7" width="1.83" height="11.38" fill="#dd9a73"/>
<rect x="275.66" y="290.7" width="1.83" height="11.38" fill="#dd9a73"/>
<rect x="277.47" y="290.7" width="1.83" height="11.38" fill="#5a5757"/>
<rect x="279.28" y="290.7" width="1.83" height="11.38" fill="#dd9a73"/>
<rect x="281.09" y="290.7" width="1.83" height="11.38" fill="#dd9a73"/>
<rect x="282.9" y="290.7" width="1.83" height="11.38" fill="#dd9a73"/>
<rect x="284.71" y="290.7" width="1.83" height="11.38" fill="#dd9a73"/>
<text x="384.7" y="299.31" font-size="8.5" textLength="26.3" lengthAdjust="spacingAndGlyphs">ARID1A</text>
<rect x="65.5" y="293.16" width="35.4" height="3.3" fill="#c5c1c1"/>
<rect x="55.5" y="296.96" width="45.4" height="3.3" fill="#b98bac"/>
<text x="109" y="299.16" font-size="8.5" textLength="15.2" lengthAdjust="spacingAndGlyphs">40%</text>
<rect x="425.8" y="290.9" width="39.4" height="11.18" fill="#dd9a73"/>
<rect x="465.2" y="290.9" width="9.2" height="11.18" fill="#5a5757"/>
<rect x="474.4" y="290.9" width="1" height="11.18" fill="#1893cc"/>
<rect x="134.9" y="302.43" width="74.21" height="11.38" fill="#ebe7e7"/>
<rect x="134.9" y="302.43" width="1.83" height="11.38" fill="#5aa386"/>
<rect x="156.62" y="302.43" width="1.83" height="11.38" fill="#5aa386"/>
<rect x="158.43" y="302.43" width="1.83" height="11.38" fill="#5aa386"/>
<rect x="160.24" y="302.43" width="1.83" height="11.38" fill="#5aa386"/>
<rect x="162.05" y="302.43" width="1.83" height="11.38" fill="#5aa386"/>
<rect x="163.86" y="302.43" width="1.83" height="11.38" fill="#5aa386"/>
<rect x="165.67" y="302.43" width="1.83" height="11.38" fill="#5aa386"/>
<rect x="167.48" y="302.43" width="1.83" height="11.38" fill="#5aa386"/>
<rect x="169.29" y="302.43" width="1.83" height="11.38" fill="#5aa386"/>
<rect x="171.1" y="302.43" width="1.83" height="11.38" fill="#5aa386"/>
<rect x="172.91" y="302.43" width="1.83" height="11.38" fill="#5aa386"/>
<rect x="174.72" y="302.43" width="1.83" height="11.38" fill="#dd9a73"/>
<rect x="176.53" y="302.43" width="1.83" height="11.38" fill="#5aa386"/>
<rect x="178.34" y="302.43" width="1.83" height="11.38" fill="#5aa386"/>
<rect x="180.15" y="302.43" width="1.83" height="11.38" fill="#5aa386"/>
<rect x="181.96" y="302.43" width="1.83" height="11.38" fill="#5aa386"/>
<rect x="210.5" y="302.43" width="170.14" height="11.38" fill="#ebe7e7"/>
<rect x="286.52" y="302.43" width="1.83" height="11.38" fill="#5aa386"/>
<rect x="288.33" y="302.43" width="1.83" height="11.38" fill="#5aa386"/>
<rect x="290.14" y="302.43" width="1.83" height="11.38" fill="#5aa386"/>
<rect x="291.95" y="302.43" width="1.83" height="11.38" fill="#5aa386"/>
<rect x="293.76" y="302.43" width="1.83" height="11.38" fill="#5aa386"/>
<rect x="295.57" y="302.43" width="1.83" height="11.38" fill="#5a5757"/>
<rect x="297.38" y="302.43" width="1.83" height="11.38" fill="#5aa386"/>
<rect x="299.19" y="302.43" width="1.83" height="11.38" fill="#5aa386"/>
<rect x="301" y="302.43" width="1.83" height="11.38" fill="#5aa386"/>
<rect x="302.81" y="302.43" width="1.83" height="11.38" fill="#5aa386"/>
<text x="384.7" y="311.04" font-size="8.5" textLength="34.6" lengthAdjust="spacingAndGlyphs">SMARCA4</text>
<rect x="62.5" y="304.89" width="38.4" height="3.3" fill="#c5c1c1"/>
<rect x="90" y="308.69" width="10.9" height="3.3" fill="#b98bac"/>
<text x="109" y="310.89" font-size="8.5" textLength="15.2" lengthAdjust="spacingAndGlyphs">19%</text>
<circle cx="56.5" cy="308.19" r="1.15" fill="#2f2c2c"/>
<rect x="59.95" y="305.59" width="1.1" height="5.9" fill="#2f2c2c"/>
<rect x="425.8" y="302.62" width="1.5" height="11.18" fill="#5a5757"/>
<rect x="427.3" y="302.62" width="22.5" height="11.18" fill="#5aa386"/>
<text x="135.7" y="336.8" font-size="8.5" textLength="73.4" lengthAdjust="spacingAndGlyphs">Epigenetic regulation</text>
<rect x="88.8" y="330.9" width="12.1" height="3.3" fill="#c5c1c1"/>
<rect x="63.3" y="334.7" width="37.6" height="3.3" fill="#b98bac"/>
<text x="109" y="336.9" font-size="8.5" textLength="15.2" lengthAdjust="spacingAndGlyphs">30%</text>
<circle cx="57.3" cy="334.2" r="1.15" fill="#2f2c2c"/>
<rect x="60.75" y="331.6" width="1.1" height="5.9" fill="#2f2c2c"/>
<rect x="134.9" y="340.4" width="74.21" height="11.69" fill="#ebe7e7"/>
<rect x="134.9" y="340.4" width="1.83" height="11.69" fill="#dd9a73"/>
<rect x="136.71" y="340.4" width="1.83" height="11.69" fill="#5aa386"/>
<rect x="138.52" y="340.4" width="1.83" height="11.69" fill="#c2d9ec"/>
<rect x="210.5" y="340.4" width="170.14" height="11.69" fill="#ebe7e7"/>
<rect x="210.5" y="340.4" width="1.83" height="11.69" fill="#dd9a73"/>
<rect x="212.31" y="340.4" width="1.83" height="11.69" fill="#dd9a73"/>
<rect x="214.12" y="340.4" width="1.83" height="11.69" fill="#dd9a73"/>
<rect x="215.93" y="340.4" width="1.83" height="11.69" fill="#dd9a73"/>
<rect x="217.74" y="340.4" width="1.83" height="11.69" fill="#5aa386"/>
<rect x="219.55" y="340.4" width="1.83" height="11.69" fill="#dd9a73"/>
<rect x="221.36" y="340.4" width="1.83" height="11.69" fill="#dd9a73"/>
<rect x="223.17" y="340.4" width="1.83" height="11.69" fill="#dd9a73"/>
<rect x="224.98" y="340.4" width="1.83" height="11.69" fill="#dd9a73"/>
<rect x="226.79" y="340.4" width="1.83" height="11.69" fill="#dd9a73"/>
<rect x="228.6" y="340.4" width="1.83" height="11.69" fill="#dd9a73"/>
<rect x="230.41" y="340.4" width="1.83" height="11.69" fill="#dd9a73"/>
<rect x="232.22" y="340.4" width="1.83" height="11.69" fill="#dd9a73"/>
<text x="384.7" y="349.17" font-size="8.5" textLength="25.1" lengthAdjust="spacingAndGlyphs">KMT2D</text>
<rect x="93.3" y="342.82" width="7.6" height="3.3" fill="#c5c1c1"/>
<rect x="86.8" y="346.62" width="14.1" height="3.3" fill="#b98bac"/>
<text x="109" y="348.82" font-size="8.5" textLength="15.2" lengthAdjust="spacingAndGlyphs">12%</text>
<rect x="425.8" y="340.6" width="12.1" height="11.49" fill="#dd9a73"/>
<rect x="437.9" y="340.6" width="1.3" height="11.49" fill="#5aa386"/>
<rect x="439.2" y="340.6" width="0.8" height="11.49" fill="#c2d9ec"/>
<rect x="134.9" y="352.44" width="74.21" height="11.69" fill="#ebe7e7"/>
<rect x="140.33" y="352.44" width="1.83" height="11.69" fill="#5aa386"/>
<rect x="210.5" y="352.44" width="170.14" height="11.69" fill="#ebe7e7"/>
<rect x="210.5" y="352.44" width="1.83" height="11.69" fill="#5aa386"/>
<rect x="234.03" y="352.44" width="1.83" height="11.69" fill="#5aa386"/>
<rect x="235.84" y="352.44" width="1.83" height="11.69" fill="#5aa386"/>
<rect x="237.65" y="352.44" width="1.83" height="11.69" fill="#5aa386"/>
<rect x="239.46" y="352.44" width="1.83" height="11.69" fill="#5a5757"/>
<rect x="241.27" y="352.44" width="1.83" height="11.69" fill="#5aa386"/>
<rect x="243.08" y="352.44" width="1.83" height="11.69" fill="#5aa386"/>
<rect x="244.89" y="352.44" width="1.83" height="11.69" fill="#5aa386"/>
<rect x="246.7" y="352.44" width="1.83" height="11.69" fill="#5aa386"/>
<rect x="248.51" y="352.44" width="1.83" height="11.69" fill="#5aa386"/>
<text x="384.7" y="361.21" font-size="8.5" textLength="33.5" lengthAdjust="spacingAndGlyphs">HIST1H1E</text>
<rect x="100.6" y="354.86" width="0.3" height="3.3" fill="#c5c1c1"/>
<rect x="89.5" y="358.66" width="11.4" height="3.3" fill="#b98bac"/>
<text x="109" y="360.86" font-size="8.5" textLength="16.9" lengthAdjust="spacingAndGlyphs">8.1%</text>
<rect x="425.8" y="352.64" width="1.5" height="11.49" fill="#5a5757"/>
<rect x="427.3" y="352.64" width="8.5" height="11.49" fill="#5aa386"/>
<rect x="134.9" y="364.47" width="74.21" height="11.69" fill="#ebe7e7"/>
<rect x="142.14" y="364.47" width="1.83" height="11.69" fill="#dd9a73"/>
<rect x="210.5" y="364.47" width="170.14" height="11.69" fill="#ebe7e7"/>
<rect x="212.31" y="364.47" width="1.83" height="11.69" fill="#5aa386"/>
<rect x="214.12" y="364.47" width="1.83" height="11.69" fill="#dd9a73"/>
<rect x="250.32" y="364.47" width="1.83" height="11.69" fill="#dd9a73"/>
<rect x="252.13" y="364.47" width="1.83" height="11.69" fill="#5a5757"/>
<rect x="253.94" y="364.47" width="1.83" height="11.69" fill="#5aa386"/>
<rect x="255.75" y="364.47" width="1.83" height="11.69" fill="#dd9a73"/>
<rect x="257.56" y="364.47" width="1.83" height="11.69" fill="#5aa386"/>
<rect x="259.37" y="364.47" width="1.83" height="11.69" fill="#dd9a73"/>
<rect x="261.18" y="364.47" width="1.83" height="11.69" fill="#dd9a73"/>
<text x="384.7" y="373.24" font-size="8.5" textLength="19.7" lengthAdjust="spacingAndGlyphs">CHD8</text>
<rect x="97" y="366.89" width="3.9" height="3.3" fill="#c5c1c1"/>
<rect x="91.3" y="370.69" width="9.6" height="3.3" fill="#b98bac"/>
<text x="109" y="372.89" font-size="8.5" textLength="16.9" lengthAdjust="spacingAndGlyphs">7.4%</text>
<rect x="425.8" y="364.67" width="5.7" height="11.49" fill="#dd9a73"/>
<rect x="431.5" y="364.67" width="0.5" height="11.49" fill="#5a5757"/>
<rect x="432" y="364.67" width="3" height="11.49" fill="#5aa386"/>
<rect x="134.9" y="376.51" width="74.21" height="11.69" fill="#ebe7e7"/>
<rect x="210.5" y="376.51" width="170.14" height="11.69" fill="#ebe7e7"/>
<rect x="250.32" y="376.51" width="1.83" height="11.69" fill="#5aa386"/>
<rect x="252.13" y="376.51" width="1.83" height="11.69" fill="#5aa386"/>
<rect x="262.99" y="376.51" width="1.83" height="11.69" fill="#5aa386"/>
<rect x="264.8" y="376.51" width="1.83" height="11.69" fill="#5aa386"/>
<rect x="266.61" y="376.51" width="1.83" height="11.69" fill="#dd9a73"/>
<rect x="268.42" y="376.51" width="1.83" height="11.69" fill="#5aa386"/>
<rect x="270.23" y="376.51" width="1.83" height="11.69" fill="#dd9a73"/>
<rect x="272.04" y="376.51" width="1.83" height="11.69" fill="#5aa386"/>
<text x="384.7" y="385.28" font-size="8.5" textLength="22.7" lengthAdjust="spacingAndGlyphs">BCL7A</text>
<rect x="100.6" y="378.93" width="0.3" height="3.3" fill="#c5c1c1"/>
<rect x="92.5" y="382.73" width="8.4" height="3.3" fill="#b98bac"/>
<text x="109" y="384.93" font-size="8.5" textLength="16.9" lengthAdjust="spacingAndGlyphs">5.9%</text>
<rect x="425.8" y="376.71" width="1.9" height="11.49" fill="#dd9a73"/>
<rect x="427.7" y="376.71" width="5.8" height="11.49" fill="#5aa386"/>
<text x="135.7" y="411.15" font-size="8.5" textLength="51.5" lengthAdjust="spacingAndGlyphs">GPCR signaling</text>
<rect x="50" y="405.1" width="50.9" height="3.3" fill="#c5c1c1"/>
<rect x="70.8" y="408.9" width="30.1" height="3.3" fill="#b98bac"/>
<text x="109" y="411.1" font-size="8.5" textLength="15.2" lengthAdjust="spacingAndGlyphs">36%</text>
<rect x="134.9" y="414.8" width="74.21" height="11.5" fill="#ebe7e7"/>
<rect x="134.9" y="414.8" width="1.83" height="11.5" fill="#dd9a73"/>
<rect x="136.71" y="414.8" width="1.83" height="11.5" fill="#dd9a73"/>
<rect x="138.52" y="414.8" width="1.83" height="11.5" fill="#dd9a73"/>
<rect x="140.33" y="414.8" width="1.83" height="11.5" fill="#5aa386"/>
<rect x="142.14" y="414.8" width="1.83" height="11.5" fill="#5a5757"/>
<rect x="143.95" y="414.8" width="1.83" height="11.5" fill="#5a5757"/>
<rect x="145.76" y="414.8" width="1.83" height="11.5" fill="#5aa386"/>
<rect x="147.57" y="414.8" width="1.83" height="11.5" fill="#dd9a73"/>
<rect x="149.38" y="414.8" width="1.83" height="11.5" fill="#5a5757"/>
<rect x="151.19" y="414.8" width="1.83" height="11.5" fill="#5aa386"/>
<rect x="210.5" y="414.8" width="170.14" height="11.5" fill="#ebe7e7"/>
<rect x="210.5" y="414.8" width="1.83" height="11.5" fill="#dd9a73"/>
<rect x="212.31" y="414.8" width="1.83" height="11.5" fill="#5aa386"/>
<rect x="214.12" y="414.8" width="1.83" height="11.5" fill="#5a5757"/>
<rect x="215.93" y="414.8" width="1.83" height="11.5" fill="#dd9a73"/>
<rect x="217.74" y="414.8" width="1.83" height="11.5" fill="#dd9a73"/>
<rect x="219.55" y="414.8" width="1.83" height="11.5" fill="#dd9a73"/>
<rect x="221.36" y="414.8" width="1.83" height="11.5" fill="#dd9a73"/>
<rect x="223.17" y="414.8" width="1.83" height="11.5" fill="#5a5757"/>
<rect x="224.98" y="414.8" width="1.83" height="11.5" fill="#5a5757"/>
<rect x="226.79" y="414.8" width="1.83" height="11.5" fill="#dd9a73"/>
<rect x="228.6" y="414.8" width="1.83" height="11.5" fill="#dd9a73"/>
<rect x="230.41" y="414.8" width="1.83" height="11.5" fill="#dd9a73"/>
<rect x="232.22" y="414.8" width="1.83" height="11.5" fill="#dd9a73"/>
<rect x="234.03" y="414.8" width="1.83" height="11.5" fill="#dd9a73"/>
<rect x="235.84" y="414.8" width="1.83" height="11.5" fill="#dd9a73"/>
<rect x="237.65" y="414.8" width="1.83" height="11.5" fill="#dd9a73"/>
<text x="384.7" y="423.48" font-size="8.5" textLength="24.4" lengthAdjust="spacingAndGlyphs">GNA13</text>
<rect x="65.5" y="416.83" width="35.4" height="3.3" fill="#c5c1c1"/>
<rect x="83.8" y="420.63" width="17.1" height="3.3" fill="#b98bac"/>
<text x="109" y="422.83" font-size="8.5" textLength="15.2" lengthAdjust="spacingAndGlyphs">19%</text>
<rect x="425.8" y="415" width="14.4" height="11.3" fill="#dd9a73"/>
<rect x="440.2" y="415" width="5.8" height="11.3" fill="#5a5757"/>
<rect x="446" y="415" width="3.8" height="11.3" fill="#5aa386"/>
<rect x="134.9" y="426.65" width="74.21" height="11.5" fill="#ebe7e7"/>
<rect x="134.9" y="426.65" width="1.83" height="11.5" fill="#5a5757"/>
<rect x="153" y="426.65" width="1.83" height="11.5" fill="#5aa386"/>
<rect x="154.81" y="426.65" width="1.83" height="11.5" fill="#5aa386"/>
<rect x="156.62" y="426.65" width="1.83" height="11.5" fill="#5aa386"/>
<rect x="158.43" y="426.65" width="1.83" height="11.5" fill="#5aa386"/>
<rect x="160.24" y="426.65" width="1.83" height="11.5" fill="#5a5757"/>
<rect x="162.05" y="426.65" width="1.83" height="11.5" fill="#5a5757"/>
<rect x="210.5" y="426.65" width="170.14" height="11.5" fill="#ebe7e7"/>
<rect x="210.5" y="426.65" width="1.83" height="11.5" fill="#5aa386"/>
<rect x="239.46" y="426.65" width="1.83" height="11.5" fill="#5aa386"/>
<rect x="241.27" y="426.65" width="1.83" height="11.5" fill="#5aa386"/>
<rect x="243.08" y="426.65" width="1.83" height="11.5" fill="#5aa386"/>
<rect x="244.89" y="426.65" width="1.83" height="11.5" fill="#5aa386"/>
<rect x="246.7" y="426.65" width="1.83" height="11.5" fill="#5aa386"/>
<rect x="248.51" y="426.65" width="1.83" height="11.5" fill="#5aa386"/>
<rect x="250.32" y="426.65" width="1.83" height="11.5" fill="#5aa386"/>
<rect x="252.13" y="426.65" width="1.83" height="11.5" fill="#5aa386"/>
<text x="384.7" y="435.33" font-size="8.5" textLength="20.5" lengthAdjust="spacingAndGlyphs">RHOA</text>
<rect x="88.8" y="428.68" width="12.1" height="3.3" fill="#c5c1c1"/>
<rect x="91.3" y="432.48" width="9.6" height="3.3" fill="#b98bac"/>
<text x="109" y="434.68" font-size="8.5" textLength="15.2" lengthAdjust="spacingAndGlyphs">12%</text>
<rect x="425.8" y="426.85" width="1.7" height="11.3" fill="#5a5757"/>
<rect x="427.5" y="426.85" width="12.7" height="11.3" fill="#5aa386"/>
<rect x="134.9" y="438.5" width="74.21" height="11.5" fill="#ebe7e7"/>
<rect x="136.71" y="438.5" width="1.83" height="11.5" fill="#5aa386"/>
<rect x="163.86" y="438.5" width="1.83" height="11.5" fill="#dd9a73"/>
<rect x="165.67" y="438.5" width="1.83" height="11.5" fill="#dd9a73"/>
<rect x="167.48" y="438.5" width="1.83" height="11.5" fill="#5aa386"/>
<rect x="169.29" y="438.5" width="1.83" height="11.5" fill="#5aa386"/>
<rect x="171.1" y="438.5" width="1.83" height="11.5" fill="#5aa386"/>
<rect x="210.5" y="438.5" width="170.14" height="11.5" fill="#ebe7e7"/>
<rect x="212.31" y="438.5" width="1.83" height="11.5" fill="#5aa386"/>
<rect x="253.94" y="438.5" width="1.83" height="11.5" fill="#5aa386"/>
<rect x="255.75" y="438.5" width="1.83" height="11.5" fill="#5a5757"/>
<rect x="257.56" y="438.5" width="1.83" height="11.5" fill="#5aa386"/>
<rect x="259.37" y="438.5" width="1.83" height="11.5" fill="#5aa386"/>
<text x="384.7" y="447.18" font-size="8.5" textLength="21.9" lengthAdjust="spacingAndGlyphs">P2RY8</text>
<rect x="88.8" y="440.53" width="12.1" height="3.3" fill="#c5c1c1"/>
<rect x="95.8" y="444.33" width="5.1" height="3.3" fill="#b98bac"/>
<text x="109" y="446.53" font-size="8.5" textLength="16.9" lengthAdjust="spacingAndGlyphs">8.1%</text>
<rect x="425.8" y="438.7" width="2.2" height="11.3" fill="#dd9a73"/>
<rect x="428" y="438.7" width="8" height="11.3" fill="#5aa386"/>
<text x="135.7" y="473.25" font-size="8.5" textLength="20" lengthAdjust="spacingAndGlyphs">Other</text>
<rect x="134.9" y="476.1" width="74.21" height="11.47" fill="#ebe7e7"/>
<rect x="134.9" y="476.1" width="1.83" height="11.47" fill="#dd9a73"/>
<rect x="136.71" y="476.1" width="1.83" height="11.47" fill="#dd9a73"/>
<rect x="138.52" y="476.1" width="1.83" height="11.47" fill="#dd9a73"/>
<rect x="140.33" y="476.1" width="1.83" height="11.47" fill="#dd9a73"/>
<rect x="142.14" y="476.1" width="1.83" height="11.47" fill="#5a5757"/>
<rect x="143.95" y="476.1" width="1.83" height="11.47" fill="#dd9a73"/>
<rect x="145.76" y="476.1" width="1.83" height="11.47" fill="#5aa386"/>
<rect x="147.57" y="476.1" width="1.83" height="11.47" fill="#c2d9ec"/>
<rect x="149.38" y="476.1" width="1.83" height="11.47" fill="#5aa386"/>
<rect x="151.19" y="476.1" width="1.83" height="11.47" fill="#dd9a73"/>
<rect x="153" y="476.1" width="1.83" height="11.47" fill="#dd9a73"/>
<rect x="154.81" y="476.1" width="1.83" height="11.47" fill="#dd9a73"/>
<rect x="156.62" y="476.1" width="1.83" height="11.47" fill="#dd9a73"/>
<rect x="158.43" y="476.1" width="1.83" height="11.47" fill="#1893cc"/>
<rect x="160.24" y="476.1" width="1.83" height="11.47" fill="#1893cc"/>
<rect x="162.05" y="476.1" width="1.83" height="11.47" fill="#dd9a73"/>
<rect x="163.86" y="476.1" width="1.83" height="11.47" fill="#5aa386"/>
<rect x="210.5" y="476.1" width="170.14" height="11.47" fill="#ebe7e7"/>
<rect x="210.5" y="476.1" width="1.83" height="11.47" fill="#5aa386"/>
<rect x="212.31" y="476.1" width="1.83" height="11.47" fill="#5aa386"/>
<rect x="214.12" y="476.1" width="1.83" height="11.47" fill="#5aa386"/>
<rect x="215.93" y="476.1" width="1.83" height="11.47" fill="#dd9a73"/>
<rect x="217.74" y="476.1" width="1.83" height="11.47" fill="#dd9a73"/>
<rect x="219.55" y="476.1" width="1.83" height="11.47" fill="#5aa386"/>
<rect x="221.36" y="476.1" width="1.83" height="11.47" fill="#5a5757"/>
<rect x="223.17" y="476.1" width="1.83" height="11.47" fill="#dd9a73"/>
<rect x="224.98" y="476.1" width="1.83" height="11.47" fill="#5aa386"/>
<rect x="226.79" y="476.1" width="1.83" height="11.47" fill="#5aa386"/>
<rect x="228.6" y="476.1" width="1.83" height="11.47" fill="#5aa386"/>
<rect x="230.41" y="476.1" width="1.83" height="11.47" fill="#1893cc"/>
<rect x="232.22" y="476.1" width="1.83" height="11.47" fill="#dd9a73"/>
<rect x="234.03" y="476.1" width="1.83" height="11.47" fill="#5aa386"/>
<rect x="235.84" y="476.1" width="1.83" height="11.47" fill="#dd9a73"/>
<rect x="237.65" y="476.1" width="1.83" height="11.47" fill="#dd9a73"/>
<rect x="239.46" y="476.1" width="1.83" height="11.47" fill="#5a5757"/>
<rect x="241.27" y="476.1" width="1.83" height="11.47" fill="#5aa386"/>
<rect x="243.08" y="476.1" width="1.83" height="11.47" fill="#5aa386"/>
<rect x="244.89" y="476.1" width="1.83" height="11.47" fill="#dd9a73"/>
<rect x="246.7" y="476.1" width="1.83" height="11.47" fill="#5aa386"/>
<rect x="248.51" y="476.1" width="1.83" height="11.47" fill="#5aa386"/>
<rect x="250.32" y="476.1" width="1.83" height="11.47" fill="#dd9a73"/>
<rect x="252.13" y="476.1" width="1.83" height="11.47" fill="#dd9a73"/>
<rect x="253.94" y="476.1" width="1.83" height="11.47" fill="#5aa386"/>
<rect x="255.75" y="476.1" width="1.83" height="11.47" fill="#5a5757"/>
<rect x="257.56" y="476.1" width="1.83" height="11.47" fill="#5a5757"/>
<rect x="259.37" y="476.1" width="1.83" height="11.47" fill="#5aa386"/>
<rect x="261.18" y="476.1" width="1.83" height="11.47" fill="#5aa386"/>
<rect x="262.99" y="476.1" width="1.83" height="11.47" fill="#5aa386"/>
<rect x="264.8" y="476.1" width="1.83" height="11.47" fill="#5aa386"/>
<rect x="266.61" y="476.1" width="1.83" height="11.47" fill="#5aa386"/>
<rect x="268.42" y="476.1" width="1.83" height="11.47" fill="#5aa386"/>
<rect x="270.23" y="476.1" width="1.83" height="11.47" fill="#5aa386"/>
<rect x="272.04" y="476.1" width="1.83" height="11.47" fill="#5aa386"/>
<rect x="273.85" y="476.1" width="1.83" height="11.47" fill="#dd9a73"/>
<rect x="275.66" y="476.1" width="1.83" height="11.47" fill="#1893cc"/>
<rect x="277.47" y="476.1" width="1.83" height="11.47" fill="#dd9a73"/>
<rect x="279.28" y="476.1" width="1.83" height="11.47" fill="#5aa386"/>
<rect x="281.09" y="476.1" width="1.83" height="11.47" fill="#dd9a73"/>
<rect x="282.9" y="476.1" width="1.83" height="11.47" fill="#c2d9ec"/>
<rect x="284.71" y="476.1" width="1.83" height="11.47" fill="#5aa386"/>
<rect x="286.52" y="476.1" width="1.83" height="11.47" fill="#dd9a73"/>
<rect x="288.33" y="476.1" width="1.83" height="11.47" fill="#5aa386"/>
<rect x="290.14" y="476.1" width="1.83" height="11.47" fill="#c2d9ec"/>
<rect x="291.95" y="476.1" width="1.83" height="11.47" fill="#dd9a73"/>
<rect x="293.76" y="476.1" width="1.83" height="11.47" fill="#5aa386"/>
<rect x="295.57" y="476.1" width="1.83" height="11.47" fill="#dd9a73"/>
<rect x="297.38" y="476.1" width="1.83" height="11.47" fill="#5a5757"/>
<rect x="299.19" y="476.1" width="1.83" height="11.47" fill="#5aa386"/>
<rect x="301" y="476.1" width="1.83" height="11.47" fill="#c2d9ec"/>
<rect x="302.81" y="476.1" width="1.83" height="11.47" fill="#dd9a73"/>
<rect x="304.62" y="476.1" width="1.83" height="11.47" fill="#5aa386"/>
<rect x="306.43" y="476.1" width="1.83" height="11.47" fill="#5aa386"/>
<rect x="308.24" y="476.1" width="1.83" height="11.47" fill="#dd9a73"/>
<rect x="310.05" y="476.1" width="1.83" height="11.47" fill="#dd9a73"/>
<rect x="311.86" y="476.1" width="1.83" height="11.47" fill="#5aa386"/>
<rect x="313.67" y="476.1" width="1.83" height="11.47" fill="#c2d9ec"/>
<text x="384.7" y="484.76" font-size="8.5" textLength="24.1" lengthAdjust="spacingAndGlyphs">DDX3X</text>
<rect x="50" y="478.91" width="50.9" height="3.3" fill="#c5c1c1"/>
<rect x="38" y="482.71" width="62.9" height="3.3" fill="#b98bac"/>
<text x="109" y="484.91" font-size="8.5" textLength="15.2" lengthAdjust="spacingAndGlyphs">56%</text>
<rect x="425.8" y="476.3" width="25.5" height="11.27" fill="#dd9a73"/>
<rect x="451.3" y="476.3" width="5.6" height="11.27" fill="#5a5757"/>
<rect x="456.9" y="476.3" width="29.4" height="11.27" fill="#5aa386"/>
<rect x="486.3" y="476.3" width="4.5" height="11.27" fill="#c2d9ec"/>
<rect x="490.8" y="476.3" width="4.2" height="11.27" fill="#1893cc"/>
<rect x="134.9" y="487.92" width="74.21" height="11.47" fill="#ebe7e7"/>
<rect x="134.9" y="487.92" width="1.83" height="11.47" fill="#5aa386"/>
<rect x="136.71" y="487.92" width="1.83" height="11.47" fill="#dd9a73"/>
<rect x="138.52" y="487.92" width="1.83" height="11.47" fill="#5aa386"/>
<rect x="140.33" y="487.92" width="1.83" height="11.47" fill="#dd9a73"/>
<rect x="142.14" y="487.92" width="1.83" height="11.47" fill="#dd9a73"/>
<rect x="143.95" y="487.92" width="1.83" height="11.47" fill="#5a5757"/>
<rect x="145.76" y="487.92" width="1.83" height="11.47" fill="#5aa386"/>
<rect x="147.57" y="487.92" width="1.83" height="11.47" fill="#dd9a73"/>
<rect x="165.67" y="487.92" width="1.83" height="11.47" fill="#5aa386"/>
<rect x="167.48" y="487.92" width="1.83" height="11.47" fill="#dd9a73"/>
<rect x="169.29" y="487.92" width="1.83" height="11.47" fill="#dd9a73"/>
<rect x="171.1" y="487.92" width="1.83" height="11.47" fill="#5a5757"/>
<rect x="172.91" y="487.92" width="1.83" height="11.47" fill="#5aa386"/>
<rect x="174.72" y="487.92" width="1.83" height="11.47" fill="#dd9a73"/>
<rect x="176.53" y="487.92" width="1.83" height="11.47" fill="#1893cc"/>
<rect x="178.34" y="487.92" width="1.83" height="11.47" fill="#dd9a73"/>
<rect x="180.15" y="487.92" width="1.83" height="11.47" fill="#c2d9ec"/>
<rect x="181.96" y="487.92" width="1.83" height="11.47" fill="#5aa386"/>
<rect x="210.5" y="487.92" width="170.14" height="11.47" fill="#ebe7e7"/>
<rect x="210.5" y="487.92" width="1.83" height="11.47" fill="#5aa386"/>
<rect x="212.31" y="487.92" width="1.83" height="11.47" fill="#5aa386"/>
<rect x="214.12" y="487.92" width="1.83" height="11.47" fill="#dd9a73"/>
<rect x="215.93" y="487.92" width="1.83" height="11.47" fill="#dd9a73"/>
<rect x="217.74" y="487.92" width="1.83" height="11.47" fill="#5a5757"/>
<rect x="219.55" y="487.92" width="1.83" height="11.47" fill="#dd9a73"/>
<rect x="221.36" y="487.92" width="1.83" height="11.47" fill="#5aa386"/>
<rect x="223.17" y="487.92" width="1.83" height="11.47" fill="#5aa386"/>
<rect x="224.98" y="487.92" width="1.83" height="11.47" fill="#5a5757"/>
<rect x="226.79" y="487.92" width="1.83" height="11.47" fill="#dd9a73"/>
<rect x="228.6" y="487.92" width="1.83" height="11.47" fill="#dd9a73"/>
<rect x="230.41" y="487.92" width="1.83" height="11.47" fill="#5a5757"/>
<rect x="232.22" y="487.92" width="1.83" height="11.47" fill="#5aa386"/>
<rect x="234.03" y="487.92" width="1.83" height="11.47" fill="#dd9a73"/>
<rect x="315.48" y="487.92" width="1.83" height="11.47" fill="#dd9a73"/>
<rect x="317.29" y="487.92" width="1.83" height="11.47" fill="#5a5757"/>
<rect x="319.1" y="487.92" width="1.83" height="11.47" fill="#dd9a73"/>
<text x="384.7" y="496.58" font-size="8.5" textLength="26.3" lengthAdjust="spacingAndGlyphs">FBXO11</text>
<rect x="65.5" y="490.73" width="35.4" height="3.3" fill="#c5c1c1"/>
<rect x="83" y="494.53" width="17.9" height="3.3" fill="#b98bac"/>
<text x="109" y="496.73" font-size="8.5" textLength="15.2" lengthAdjust="spacingAndGlyphs">26%</text>
<rect x="425.8" y="488.12" width="14.4" height="11.27" fill="#dd9a73"/>
<rect x="440.2" y="488.12" width="5.8" height="11.27" fill="#5a5757"/>
<rect x="446" y="488.12" width="10.2" height="11.27" fill="#5aa386"/>
<rect x="456.2" y="488.12" width="1.7" height="11.27" fill="#1893cc"/>
<rect x="134.9" y="499.74" width="74.21" height="11.47" fill="#ebe7e7"/>
<rect x="134.9" y="499.74" width="1.83" height="11.47" fill="#5aa386"/>
<rect x="136.71" y="499.74" width="1.83" height="11.47" fill="#dd9a73"/>
<rect x="138.52" y="499.74" width="1.83" height="11.47" fill="#5aa386"/>
<rect x="149.38" y="499.74" width="1.83" height="11.47" fill="#5aa386"/>
<rect x="151.19" y="499.74" width="1.83" height="11.47" fill="#dd9a73"/>
<rect x="165.67" y="499.74" width="1.83" height="11.47" fill="#5aa386"/>
<rect x="167.48" y="499.74" width="1.83" height="11.47" fill="#dd9a73"/>
<rect x="169.29" y="499.74" width="1.83" height="11.47" fill="#5aa386"/>
<rect x="171.1" y="499.74" width="1.83" height="11.47" fill="#5aa386"/>
<rect x="172.91" y="499.74" width="1.83" height="11.47" fill="#dd9a73"/>
<rect x="174.72" y="499.74" width="1.83" height="11.47" fill="#dd9a73"/>
<rect x="176.53" y="499.74" width="1.83" height="11.47" fill="#dd9a73"/>
<rect x="183.77" y="499.74" width="1.83" height="11.47" fill="#dd9a73"/>
<rect x="185.58" y="499.74" width="1.83" height="11.47" fill="#5aa386"/>
<rect x="187.39" y="499.74" width="1.83" height="11.47" fill="#dd9a73"/>
<rect x="189.2" y="499.74" width="1.83" height="11.47" fill="#dd9a73"/>
<rect x="210.5" y="499.74" width="170.14" height="11.47" fill="#ebe7e7"/>
<rect x="235.84" y="499.74" width="1.83" height="11.47" fill="#dd9a73"/>
<rect x="237.65" y="499.74" width="1.83" height="11.47" fill="#dd9a73"/>
<rect x="239.46" y="499.74" width="1.83" height="11.47" fill="#5aa386"/>
<rect x="241.27" y="499.74" width="1.83" height="11.47" fill="#5aa386"/>
<rect x="243.08" y="499.74" width="1.83" height="11.47" fill="#5aa386"/>
<rect x="244.89" y="499.74" width="1.83" height="11.47" fill="#5aa386"/>
<rect x="246.7" y="499.74" width="1.83" height="11.47" fill="#5aa386"/>
<rect x="248.51" y="499.74" width="1.83" height="11.47" fill="#5a5757"/>
<rect x="315.48" y="499.74" width="1.83" height="11.47" fill="#dd9a73"/>
<text x="384.7" y="508.4" font-size="8.5" textLength="24.4" lengthAdjust="spacingAndGlyphs">CCND3</text>
<rect x="65.5" y="502.55" width="35.4" height="3.3" fill="#c5c1c1"/>
<rect x="91.3" y="506.35" width="9.6" height="3.3" fill="#b98bac"/>
<text x="109" y="508.55" font-size="8.5" textLength="15.2" lengthAdjust="spacingAndGlyphs">19%</text>
<circle cx="59.5" cy="505.85" r="1.15" fill="#2f2c2c"/>
<rect x="62.95" y="503.25" width="1.1" height="5.9" fill="#2f2c2c"/>
<rect x="425.8" y="499.94" width="11.5" height="11.27" fill="#dd9a73"/>
<rect x="437.3" y="499.94" width="11.5" height="11.27" fill="#5aa386"/>
<rect x="134.9" y="511.56" width="74.21" height="11.47" fill="#ebe7e7"/>
<rect x="134.9" y="511.56" width="1.83" height="11.47" fill="#5aa386"/>
<rect x="136.71" y="511.56" width="1.83" height="11.47" fill="#5aa386"/>
<rect x="153" y="511.56" width="1.83" height="11.47" fill="#c2d9ec"/>
<rect x="154.81" y="511.56" width="1.83" height="11.47" fill="#5aa386"/>
<rect x="156.62" y="511.56" width="1.83" height="11.47" fill="#5a5757"/>
<rect x="158.43" y="511.56" width="1.83" height="11.47" fill="#5a5757"/>
<rect x="165.67" y="511.56" width="1.83" height="11.47" fill="#5aa386"/>
<rect x="191.01" y="511.56" width="1.83" height="11.47" fill="#5aa386"/>
<rect x="192.82" y="511.56" width="1.83" height="11.47" fill="#5aa386"/>
<rect x="210.5" y="511.56" width="170.14" height="11.47" fill="#ebe7e7"/>
<rect x="235.84" y="511.56" width="1.83" height="11.47" fill="#5aa386"/>
<rect x="237.65" y="511.56" width="1.83" height="11.47" fill="#5aa386"/>
<rect x="250.32" y="511.56" width="1.83" height="11.47" fill="#5aa386"/>
<rect x="252.13" y="511.56" width="1.83" height="11.47" fill="#5aa386"/>
<rect x="253.94" y="511.56" width="1.83" height="11.47" fill="#5aa386"/>
<rect x="255.75" y="511.56" width="1.83" height="11.47" fill="#5aa386"/>
<rect x="257.56" y="511.56" width="1.83" height="11.47" fill="#5aa386"/>
<rect x="259.37" y="511.56" width="1.83" height="11.47" fill="#5aa386"/>
<rect x="320.91" y="511.56" width="1.83" height="11.47" fill="#5aa386"/>
<rect x="322.72" y="511.56" width="1.83" height="11.47" fill="#5aa386"/>
<text x="384.7" y="520.23" font-size="8.5" textLength="21.9" lengthAdjust="spacingAndGlyphs">GNAI2</text>
<rect x="77.5" y="514.38" width="23.4" height="3.3" fill="#c5c1c1"/>
<rect x="90" y="518.18" width="10.9" height="3.3" fill="#b98bac"/>
<text x="109" y="520.38" font-size="8.5" textLength="15.2" lengthAdjust="spacingAndGlyphs">14%</text>
<rect x="425.8" y="511.76" width="1.5" height="11.27" fill="#5a5757"/>
<rect x="427.3" y="511.76" width="14.8" height="11.27" fill="#5aa386"/>
<rect x="442.1" y="511.76" width="0.6" height="11.27" fill="#c2d9ec"/>
<rect x="134.9" y="523.39" width="74.21" height="11.47" fill="#ebe7e7"/>
<rect x="140.33" y="523.39" width="1.83" height="11.47" fill="#dd9a73"/>
<rect x="167.48" y="523.39" width="1.83" height="11.47" fill="#dd9a73"/>
<rect x="169.29" y="523.39" width="1.83" height="11.47" fill="#dd9a73"/>
<rect x="191.01" y="523.39" width="1.83" height="11.47" fill="#dd9a73"/>
<rect x="194.63" y="523.39" width="1.83" height="11.47" fill="#5aa386"/>
<rect x="196.44" y="523.39" width="1.83" height="11.47" fill="#dd9a73"/>
<rect x="198.25" y="523.39" width="1.83" height="11.47" fill="#dd9a73"/>
<rect x="210.5" y="523.39" width="170.14" height="11.47" fill="#ebe7e7"/>
<rect x="210.5" y="523.39" width="1.83" height="11.47" fill="#dd9a73"/>
<rect x="239.46" y="523.39" width="1.83" height="11.47" fill="#dd9a73"/>
<rect x="261.18" y="523.39" width="1.83" height="11.47" fill="#dd9a73"/>
<rect x="262.99" y="523.39" width="1.83" height="11.47" fill="#5a5757"/>
<rect x="264.8" y="523.39" width="1.83" height="11.47" fill="#dd9a73"/>
<rect x="266.61" y="523.39" width="1.83" height="11.47" fill="#dd9a73"/>
<rect x="268.42" y="523.39" width="1.83" height="11.47" fill="#5aa386"/>
<rect x="320.91" y="523.39" width="1.83" height="11.47" fill="#dd9a73"/>
<rect x="324.53" y="523.39" width="1.83" height="11.47" fill="#dd9a73"/>
<rect x="326.34" y="523.39" width="1.83" height="11.47" fill="#5aa386"/>
<rect x="328.15" y="523.39" width="1.83" height="11.47" fill="#dd9a73"/>
<rect x="329.96" y="523.39" width="1.83" height="11.47" fill="#dd9a73"/>
<text x="384.7" y="532.05" font-size="8.5" textLength="21.9" lengthAdjust="spacingAndGlyphs">PCBP1</text>
<rect x="77.5" y="526.2" width="23.4" height="3.3" fill="#c5c1c1"/>
<rect x="87.5" y="530" width="13.4" height="3.3" fill="#b98bac"/>
<text x="109" y="532.2" font-size="8.5" textLength="15.2" lengthAdjust="spacingAndGlyphs">14%</text>
<rect x="425.8" y="523.59" width="13.8" height="11.27" fill="#dd9a73"/>
<rect x="439.6" y="523.59" width="3.9" height="11.27" fill="#5aa386"/>
<rect x="134.9" y="535.21" width="74.21" height="11.47" fill="#ebe7e7"/>
<rect x="160.24" y="535.21" width="1.83" height="11.47" fill="#5a5757"/>
<rect x="210.5" y="535.21" width="170.14" height="11.47" fill="#ebe7e7"/>
<rect x="212.31" y="535.21" width="1.83" height="11.47" fill="#5aa386"/>
<rect x="214.12" y="535.21" width="1.83" height="11.47" fill="#dd9a73"/>
<rect x="270.23" y="535.21" width="1.83" height="11.47" fill="#5aa386"/>
<rect x="272.04" y="535.21" width="1.83" height="11.47" fill="#5aa386"/>
<rect x="273.85" y="535.21" width="1.83" height="11.47" fill="#dd9a73"/>
<rect x="275.66" y="535.21" width="1.83" height="11.47" fill="#5aa386"/>
<rect x="277.47" y="535.21" width="1.83" height="11.47" fill="#dd9a73"/>
<rect x="279.28" y="535.21" width="1.83" height="11.47" fill="#dd9a73"/>
<rect x="281.09" y="535.21" width="1.83" height="11.47" fill="#5aa386"/>
<rect x="317.29" y="535.21" width="1.83" height="11.47" fill="#dd9a73"/>
<rect x="331.77" y="535.21" width="1.83" height="11.47" fill="#c2d9ec"/>
<rect x="333.58" y="535.21" width="1.83" height="11.47" fill="#5aa386"/>
<text x="384.7" y="543.87" font-size="8.5" textLength="15.5" lengthAdjust="spacingAndGlyphs">ETS1</text>
<rect x="97.5" y="538.02" width="3.4" height="3.3" fill="#c5c1c1"/>
<rect x="87.5" y="541.82" width="13.4" height="3.3" fill="#b98bac"/>
<text x="109" y="544.02" font-size="8.5" textLength="16.9" lengthAdjust="spacingAndGlyphs">9.6%</text>
<rect x="425.8" y="535.41" width="4.8" height="11.27" fill="#dd9a73"/>
<rect x="430.6" y="535.41" width="0.4" height="11.27" fill="#5a5757"/>
<rect x="431" y="535.41" width="6" height="11.27" fill="#5aa386"/>
<rect x="134.9" y="547.03" width="74.21" height="11.47" fill="#ebe7e7"/>
<rect x="142.14" y="547.03" width="1.83" height="11.47" fill="#dd9a73"/>
<rect x="153" y="547.03" width="1.83" height="11.47" fill="#dd9a73"/>
<rect x="162.05" y="547.03" width="1.83" height="11.47" fill="#dd9a73"/>
<rect x="163.86" y="547.03" width="1.83" height="11.47" fill="#dd9a73"/>
<rect x="178.34" y="547.03" width="1.83" height="11.47" fill="#dd9a73"/>
<rect x="180.15" y="547.03" width="1.83" height="11.47" fill="#dd9a73"/>
<rect x="210.5" y="547.03" width="170.14" height="11.47" fill="#ebe7e7"/>
<rect x="241.27" y="547.03" width="1.83" height="11.47" fill="#dd9a73"/>
<rect x="250.32" y="547.03" width="1.83" height="11.47" fill="#dd9a73"/>
<text x="384.7" y="555.69" font-size="8.5" textLength="17" lengthAdjust="spacingAndGlyphs">RFX7</text>
<rect x="85.8" y="549.84" width="15.1" height="3.3" fill="#c5c1c1"/>
<rect x="98.8" y="553.64" width="2.1" height="3.3" fill="#b98bac"/>
<text x="109" y="555.84" font-size="8.5" textLength="16.9" lengthAdjust="spacingAndGlyphs">5.9%</text>
<circle cx="79.8" cy="553.14" r="1.15" fill="#2f2c2c"/>
<rect x="83.25" y="550.54" width="1.1" height="5.9" fill="#2f2c2c"/>
<rect x="425.8" y="547.23" width="7.2" height="11.27" fill="#dd9a73"/>
<g fill="#ffffff" fill-opacity="0.4">
<rect x="136.53" y="56" width="0.35" height="22.9"/>
<rect x="138.34" y="56" width="0.35" height="22.9"/>
<rect x="140.16" y="56" width="0.35" height="22.9"/>
<rect x="141.97" y="56" width="0.35" height="22.9"/>
<rect x="143.78" y="56" width="0.35" height="22.9"/>
<rect x="145.58" y="56" width="0.35" height="22.9"/>
<rect x="147.39" y="56" width="0.35" height="22.9"/>
<rect x="149.2" y="56" width="0.35" height="22.9"/>
<rect x="151.01" y="56" width="0.35" height="22.9"/>
<rect x="152.82" y="56" width="0.35" height="22.9"/>
<rect x="154.63" y="56" width="0.35" height="22.9"/>
<rect x="156.44" y="56" width="0.35" height="22.9"/>
<rect x="158.25" y="56" width="0.35" height="22.9"/>
<rect x="160.06" y="56" width="0.35" height="22.9"/>
<rect x="161.88" y="56" width="0.35" height="22.9"/>
<rect x="163.69" y="56" width="0.35" height="22.9"/>
<rect x="165.5" y="56" width="0.35" height="22.9"/>
<rect x="167.31" y="56" width="0.35" height="22.9"/>
<rect x="169.12" y="56" width="0.35" height="22.9"/>
<rect x="170.93" y="56" width="0.35" height="22.9"/>
<rect x="172.73" y="56" width="0.35" height="22.9"/>
<rect x="174.54" y="56" width="0.35" height="22.9"/>
<rect x="176.35" y="56" width="0.35" height="22.9"/>
<rect x="178.16" y="56" width="0.35" height="22.9"/>
<rect x="179.97" y="56" width="0.35" height="22.9"/>
<rect x="181.78" y="56" width="0.35" height="22.9"/>
<rect x="183.59" y="56" width="0.35" height="22.9"/>
<rect x="185.41" y="56" width="0.35" height="22.9"/>
<rect x="187.22" y="56" width="0.35" height="22.9"/>
<rect x="189.03" y="56" width="0.35" height="22.9"/>
<rect x="190.83" y="56" width="0.35" height="22.9"/>
<rect x="192.64" y="56" width="0.35" height="22.9"/>
<rect x="194.45" y="56" width="0.35" height="22.9"/>
<rect x="196.26" y="56" width="0.35" height="22.9"/>
<rect x="198.07" y="56" width="0.35" height="22.9"/>
<rect x="199.88" y="56" width="0.35" height="22.9"/>
<rect x="201.69" y="56" width="0.35" height="22.9"/>
<rect x="203.5" y="56" width="0.35" height="22.9"/>
<rect x="205.31" y="56" width="0.35" height="22.9"/>
<rect x="207.12" y="56" width="0.35" height="22.9"/>
<rect x="212.13" y="56" width="0.35" height="22.9"/>
<rect x="213.94" y="56" width="0.35" height="22.9"/>
<rect x="215.75" y="56" width="0.35" height="22.9"/>
<rect x="217.56" y="56" width="0.35" height="22.9"/>
<rect x="219.38" y="56" width="0.35" height="22.9"/>
<rect x="221.19" y="56" width="0.35" height="22.9"/>
<rect x="222.99" y="56" width="0.35" height="22.9"/>
<rect x="224.8" y="56" width="0.35" height="22.9"/>
<rect x="226.61" y="56" width="0.35" height="22.9"/>
<rect x="228.42" y="56" width="0.35" height="22.9"/>
<rect x="230.23" y="56" width="0.35" height="22.9"/>
<rect x="232.04" y="56" width="0.35" height="22.9"/>
<rect x="233.85" y="56" width="0.35" height="22.9"/>
<rect x="235.66" y="56" width="0.35" height="22.9"/>
<rect x="237.47" y="56" width="0.35" height="22.9"/>
<rect x="239.28" y="56" width="0.35" height="22.9"/>
<rect x="241.09" y="56" width="0.35" height="22.9"/>
<rect x="242.9" y="56" width="0.35" height="22.9"/>
<rect x="244.71" y="56" width="0.35" height="22.9"/>
<rect x="246.52" y="56" width="0.35" height="22.9"/>
<rect x="248.33" y="56" width="0.35" height="22.9"/>
<rect x="250.14" y="56" width="0.35" height="22.9"/>
<rect x="251.95" y="56" width="0.35" height="22.9"/>
<rect x="253.76" y="56" width="0.35" height="22.9"/>
<rect x="255.57" y="56" width="0.35" height="22.9"/>
<rect x="257.38" y="56" width="0.35" height="22.9"/>
<rect x="259.19" y="56" width="0.35" height="22.9"/>
<rect x="261" y="56" width="0.35" height="22.9"/>
<rect x="262.81" y="56" width="0.35" height="22.9"/>
<rect x="264.62" y="56" width="0.35" height="22.9"/>
<rect x="266.44" y="56" width="0.35" height="22.9"/>
<rect x="268.25" y="56" width="0.35" height="22.9"/>
<rect x="270.06" y="56" width="0.35" height="22.9"/>
<rect x="271.87" y="56" width="0.35" height="22.9"/>
<rect x="273.68" y="56" width="0.35" height="22.9"/>
<rect x="275.48" y="56" width="0.35" height="22.9"/>
<rect x="277.3" y="56" width="0.35" height="22.9"/>
<rect x="279.1" y="56" width="0.35" height="22.9"/>
<rect x="280.92" y="56" width="0.35" height="22.9"/>
<rect x="282.72" y="56" width="0.35" height="22.9"/>
<rect x="284.54" y="56" width="0.35" height="22.9"/>
<rect x="286.34" y="56" width="0.35" height="22.9"/>
<rect x="288.15" y="56" width="0.35" height="22.9"/>
<rect x="289.96" y="56" width="0.35" height="22.9"/>
<rect x="291.77" y="56" width="0.35" height="22.9"/>
<rect x="293.58" y="56" width="0.35" height="22.9"/>
<rect x="295.39" y="56" width="0.35" height="22.9"/>
<rect x="297.2" y="56" width="0.35" height="22.9"/>
<rect x="299.01" y="56" width="0.35" height="22.9"/>
<rect x="300.82" y="56" width="0.35" height="22.9"/>
<rect x="302.63" y="56" width="0.35" height="22.9"/>
<rect x="304.44" y="56" width="0.35" height="22.9"/>
<rect x="306.25" y="56" width="0.35" height="22.9"/>
<rect x="308.06" y="56" width="0.35" height="22.9"/>
<rect x="309.88" y="56" width="0.35" height="22.9"/>
<rect x="311.69" y="56" width="0.35" height="22.9"/>
<rect x="313.5" y="56" width="0.35" height="22.9"/>
<rect x="315.31" y="56" width="0.35" height="22.9"/>
<rect x="317.12" y="56" width="0.35" height="22.9"/>
<rect x="318.93" y="56" width="0.35" height="22.9"/>
<rect x="320.73" y="56" width="0.35" height="22.9"/>
<rect x="322.55" y="56" width="0.35" height="22.9"/>
<rect x="324.35" y="56" width="0.35" height="22.9"/>
<rect x="326.17" y="56" width="0.35" height="22.9"/>
<rect x="327.97" y="56" width="0.35" height="22.9"/>
<rect x="329.79" y="56" width="0.35" height="22.9"/>
<rect x="331.59" y="56" width="0.35" height="22.9"/>
<rect x="333.4" y="56" width="0.35" height="22.9"/>
<rect x="335.21" y="56" width="0.35" height="22.9"/>
<rect x="337.02" y="56" width="0.35" height="22.9"/>
<rect x="338.83" y="56" width="0.35" height="22.9"/>
<rect x="340.64" y="56" width="0.35" height="22.9"/>
<rect x="342.45" y="56" width="0.35" height="22.9"/>
<rect x="344.26" y="56" width="0.35" height="22.9"/>
<rect x="346.07" y="56" width="0.35" height="22.9"/>
<rect x="347.88" y="56" width="0.35" height="22.9"/>
<rect x="349.69" y="56" width="0.35" height="22.9"/>
<rect x="351.5" y="56" width="0.35" height="22.9"/>
<rect x="353.31" y="56" width="0.35" height="22.9"/>
<rect x="355.12" y="56" width="0.35" height="22.9"/>
<rect x="356.94" y="56" width="0.35" height="22.9"/>
<rect x="358.75" y="56" width="0.35" height="22.9"/>
<rect x="360.56" y="56" width="0.35" height="22.9"/>
<rect x="362.36" y="56" width="0.35" height="22.9"/>
<rect x="364.18" y="56" width="0.35" height="22.9"/>
<rect x="365.98" y="56" width="0.35" height="22.9"/>
<rect x="367.8" y="56" width="0.35" height="22.9"/>
<rect x="369.6" y="56" width="0.35" height="22.9"/>
<rect x="371.42" y="56" width="0.35" height="22.9"/>
<rect x="373.22" y="56" width="0.35" height="22.9"/>
<rect x="375.04" y="56" width="0.35" height="22.9"/>
<rect x="376.84" y="56" width="0.35" height="22.9"/>
<rect x="378.66" y="56" width="0.35" height="22.9"/>
<rect x="136.53" y="105.7" width="0.35" height="35.1"/>
<rect x="138.34" y="105.7" width="0.35" height="35.1"/>
<rect x="140.16" y="105.7" width="0.35" height="35.1"/>
<rect x="141.97" y="105.7" width="0.35" height="35.1"/>
<rect x="143.78" y="105.7" width="0.35" height="35.1"/>
<rect x="145.58" y="105.7" width="0.35" height="35.1"/>
<rect x="147.39" y="105.7" width="0.35" height="35.1"/>
<rect x="149.2" y="105.7" width="0.35" height="35.1"/>
<rect x="151.01" y="105.7" width="0.35" height="35.1"/>
<rect x="152.82" y="105.7" width="0.35" height="35.1"/>
<rect x="154.63" y="105.7" width="0.35" height="35.1"/>
<rect x="156.44" y="105.7" width="0.35" height="35.1"/>
<rect x="158.25" y="105.7" width="0.35" height="35.1"/>
<rect x="160.06" y="105.7" width="0.35" height="35.1"/>
<rect x="161.88" y="105.7" width="0.35" height="35.1"/>
<rect x="163.69" y="105.7" width="0.35" height="35.1"/>
<rect x="165.5" y="105.7" width="0.35" height="35.1"/>
<rect x="167.31" y="105.7" width="0.35" height="35.1"/>
<rect x="169.12" y="105.7" width="0.35" height="35.1"/>
<rect x="170.93" y="105.7" width="0.35" height="35.1"/>
<rect x="172.73" y="105.7" width="0.35" height="35.1"/>
<rect x="174.54" y="105.7" width="0.35" height="35.1"/>
<rect x="176.35" y="105.7" width="0.35" height="35.1"/>
<rect x="178.16" y="105.7" width="0.35" height="35.1"/>
<rect x="179.97" y="105.7" width="0.35" height="35.1"/>
<rect x="181.78" y="105.7" width="0.35" height="35.1"/>
<rect x="183.59" y="105.7" width="0.35" height="35.1"/>
<rect x="185.41" y="105.7" width="0.35" height="35.1"/>
<rect x="187.22" y="105.7" width="0.35" height="35.1"/>
<rect x="189.03" y="105.7" width="0.35" height="35.1"/>
<rect x="190.83" y="105.7" width="0.35" height="35.1"/>
<rect x="192.64" y="105.7" width="0.35" height="35.1"/>
<rect x="194.45" y="105.7" width="0.35" height="35.1"/>
<rect x="196.26" y="105.7" width="0.35" height="35.1"/>
<rect x="198.07" y="105.7" width="0.35" height="35.1"/>
<rect x="199.88" y="105.7" width="0.35" height="35.1"/>
<rect x="201.69" y="105.7" width="0.35" height="35.1"/>
<rect x="203.5" y="105.7" width="0.35" height="35.1"/>
<rect x="205.31" y="105.7" width="0.35" height="35.1"/>
<rect x="207.12" y="105.7" width="0.35" height="35.1"/>
<rect x="212.13" y="105.7" width="0.35" height="35.1"/>
<rect x="213.94" y="105.7" width="0.35" height="35.1"/>
<rect x="215.75" y="105.7" width="0.35" height="35.1"/>
<rect x="217.56" y="105.7" width="0.35" height="35.1"/>
<rect x="219.38" y="105.7" width="0.35" height="35.1"/>
<rect x="221.19" y="105.7" width="0.35" height="35.1"/>
<rect x="222.99" y="105.7" width="0.35" height="35.1"/>
<rect x="224.8" y="105.7" width="0.35" height="35.1"/>
<rect x="226.61" y="105.7" width="0.35" height="35.1"/>
<rect x="228.42" y="105.7" width="0.35" height="35.1"/>
<rect x="230.23" y="105.7" width="0.35" height="35.1"/>
<rect x="232.04" y="105.7" width="0.35" height="35.1"/>
<rect x="233.85" y="105.7" width="0.35" height="35.1"/>
<rect x="235.66" y="105.7" width="0.35" height="35.1"/>
<rect x="237.47" y="105.7" width="0.35" height="35.1"/>
<rect x="239.28" y="105.7" width="0.35" height="35.1"/>
<rect x="241.09" y="105.7" width="0.35" height="35.1"/>
<rect x="242.9" y="105.7" width="0.35" height="35.1"/>
<rect x="244.71" y="105.7" width="0.35" height="35.1"/>
<rect x="246.52" y="105.7" width="0.35" height="35.1"/>
<rect x="248.33" y="105.7" width="0.35" height="35.1"/>
<rect x="250.14" y="105.7" width="0.35" height="35.1"/>
<rect x="251.95" y="105.7" width="0.35" height="35.1"/>
<rect x="253.76" y="105.7" width="0.35" height="35.1"/>
<rect x="255.57" y="105.7" width="0.35" height="35.1"/>
<rect x="257.38" y="105.7" width="0.35" height="35.1"/>
<rect x="259.19" y="105.7" width="0.35" height="35.1"/>
<rect x="261" y="105.7" width="0.35" height="35.1"/>
<rect x="262.81" y="105.7" width="0.35" height="35.1"/>
<rect x="264.62" y="105.7" width="0.35" height="35.1"/>
<rect x="266.44" y="105.7" width="0.35" height="35.1"/>
<rect x="268.25" y="105.7" width="0.35" height="35.1"/>
<rect x="270.06" y="105.7" width="0.35" height="35.1"/>
<rect x="271.87" y="105.7" width="0.35" height="35.1"/>
<rect x="273.68" y="105.7" width="0.35" height="35.1"/>
<rect x="275.48" y="105.7" width="0.35" height="35.1"/>
<rect x="277.3" y="105.7" width="0.35" height="35.1"/>
<rect x="279.1" y="105.7" width="0.35" height="35.1"/>
<rect x="280.92" y="105.7" width="0.35" height="35.1"/>
<rect x="282.72" y="105.7" width="0.35" height="35.1"/>
<rect x="284.54" y="105.7" width="0.35" height="35.1"/>
<rect x="286.34" y="105.7" width="0.35" height="35.1"/>
<rect x="288.15" y="105.7" width="0.35" height="35.1"/>
<rect x="289.96" y="105.7" width="0.35" height="35.1"/>
<rect x="291.77" y="105.7" width="0.35" height="35.1"/>
<rect x="293.58" y="105.7" width="0.35" height="35.1"/>
<rect x="295.39" y="105.7" width="0.35" height="35.1"/>
<rect x="297.2" y="105.7" width="0.35" height="35.1"/>
<rect x="299.01" y="105.7" width="0.35" height="35.1"/>
<rect x="300.82" y="105.7" width="0.35" height="35.1"/>
<rect x="302.63" y="105.7" width="0.35" height="35.1"/>
<rect x="304.44" y="105.7" width="0.35" height="35.1"/>
<rect x="306.25" y="105.7" width="0.35" height="35.1"/>
<rect x="308.06" y="105.7" width="0.35" height="35.1"/>
<rect x="309.88" y="105.7" width="0.35" height="35.1"/>
<rect x="311.69" y="105.7" width="0.35" height="35.1"/>
<rect x="313.5" y="105.7" width="0.35" height="35.1"/>
<rect x="315.31" y="105.7" width="0.35" height="35.1"/>
<rect x="317.12" y="105.7" width="0.35" height="35.1"/>
<rect x="318.93" y="105.7" width="0.35" height="35.1"/>
<rect x="320.73" y="105.7" width="0.35" height="35.1"/>
<rect x="322.55" y="105.7" width="0.35" height="35.1"/>
<rect x="324.35" y="105.7" width="0.35" height="35.1"/>
<rect x="326.17" y="105.7" width="0.35" height="35.1"/>
<rect x="327.97" y="105.7" width="0.35" height="35.1"/>
<rect x="329.79" y="105.7" width="0.35" height="35.1"/>
<rect x="331.59" y="105.7" width="0.35" height="35.1"/>
<rect x="333.4" y="105.7" width="0.35" height="35.1"/>
<rect x="335.21" y="105.7" width="0.35" height="35.1"/>
<rect x="337.02" y="105.7" width="0.35" height="35.1"/>
<rect x="338.83" y="105.7" width="0.35" height="35.1"/>
<rect x="340.64" y="105.7" width="0.35" height="35.1"/>
<rect x="342.45" y="105.7" width="0.35" height="35.1"/>
<rect x="344.26" y="105.7" width="0.35" height="35.1"/>
<rect x="346.07" y="105.7" width="0.35" height="35.1"/>
<rect x="347.88" y="105.7" width="0.35" height="35.1"/>
<rect x="349.69" y="105.7" width="0.35" height="35.1"/>
<rect x="351.5" y="105.7" width="0.35" height="35.1"/>
<rect x="353.31" y="105.7" width="0.35" height="35.1"/>
<rect x="355.12" y="105.7" width="0.35" height="35.1"/>
<rect x="356.94" y="105.7" width="0.35" height="35.1"/>
<rect x="358.75" y="105.7" width="0.35" height="35.1"/>
<rect x="360.56" y="105.7" width="0.35" height="35.1"/>
<rect x="362.36" y="105.7" width="0.35" height="35.1"/>
<rect x="364.18" y="105.7" width="0.35" height="35.1"/>
<rect x="365.98" y="105.7" width="0.35" height="35.1"/>
<rect x="367.8" y="105.7" width="0.35" height="35.1"/>
<rect x="369.6" y="105.7" width="0.35" height="35.1"/>
<rect x="371.42" y="105.7" width="0.35" height="35.1"/>
<rect x="373.22" y="105.7" width="0.35" height="35.1"/>
<rect x="375.04" y="105.7" width="0.35" height="35.1"/>
<rect x="376.84" y="105.7" width="0.35" height="35.1"/>
<rect x="378.66" y="105.7" width="0.35" height="35.1"/>
<rect x="136.53" y="167.6" width="0.35" height="35.3"/>
<rect x="138.34" y="167.6" width="0.35" height="35.3"/>
<rect x="140.16" y="167.6" width="0.35" height="35.3"/>
<rect x="141.97" y="167.6" width="0.35" height="35.3"/>
<rect x="143.78" y="167.6" width="0.35" height="35.3"/>
<rect x="145.58" y="167.6" width="0.35" height="35.3"/>
<rect x="147.39" y="167.6" width="0.35" height="35.3"/>
<rect x="149.2" y="167.6" width="0.35" height="35.3"/>
<rect x="151.01" y="167.6" width="0.35" height="35.3"/>
<rect x="152.82" y="167.6" width="0.35" height="35.3"/>
<rect x="154.63" y="167.6" width="0.35" height="35.3"/>
<rect x="156.44" y="167.6" width="0.35" height="35.3"/>
<rect x="158.25" y="167.6" width="0.35" height="35.3"/>
<rect x="160.06" y="167.6" width="0.35" height="35.3"/>
<rect x="161.88" y="167.6" width="0.35" height="35.3"/>
<rect x="163.69" y="167.6" width="0.35" height="35.3"/>
<rect x="165.5" y="167.6" width="0.35" height="35.3"/>
<rect x="167.31" y="167.6" width="0.35" height="35.3"/>
<rect x="169.12" y="167.6" width="0.35" height="35.3"/>
<rect x="170.93" y="167.6" width="0.35" height="35.3"/>
<rect x="172.73" y="167.6" width="0.35" height="35.3"/>
<rect x="174.54" y="167.6" width="0.35" height="35.3"/>
<rect x="176.35" y="167.6" width="0.35" height="35.3"/>
<rect x="178.16" y="167.6" width="0.35" height="35.3"/>
<rect x="179.97" y="167.6" width="0.35" height="35.3"/>
<rect x="181.78" y="167.6" width="0.35" height="35.3"/>
<rect x="183.59" y="167.6" width="0.35" height="35.3"/>
<rect x="185.41" y="167.6" width="0.35" height="35.3"/>
<rect x="187.22" y="167.6" width="0.35" height="35.3"/>
<rect x="189.03" y="167.6" width="0.35" height="35.3"/>
<rect x="190.83" y="167.6" width="0.35" height="35.3"/>
<rect x="192.64" y="167.6" width="0.35" height="35.3"/>
<rect x="194.45" y="167.6" width="0.35" height="35.3"/>
<rect x="196.26" y="167.6" width="0.35" height="35.3"/>
<rect x="198.07" y="167.6" width="0.35" height="35.3"/>
<rect x="199.88" y="167.6" width="0.35" height="35.3"/>
<rect x="201.69" y="167.6" width="0.35" height="35.3"/>
<rect x="203.5" y="167.6" width="0.35" height="35.3"/>
<rect x="205.31" y="167.6" width="0.35" height="35.3"/>
<rect x="207.12" y="167.6" width="0.35" height="35.3"/>
<rect x="212.13" y="167.6" width="0.35" height="35.3"/>
<rect x="213.94" y="167.6" width="0.35" height="35.3"/>
<rect x="215.75" y="167.6" width="0.35" height="35.3"/>
<rect x="217.56" y="167.6" width="0.35" height="35.3"/>
<rect x="219.38" y="167.6" width="0.35" height="35.3"/>
<rect x="221.19" y="167.6" width="0.35" height="35.3"/>
<rect x="222.99" y="167.6" width="0.35" height="35.3"/>
<rect x="224.8" y="167.6" width="0.35" height="35.3"/>
<rect x="226.61" y="167.6" width="0.35" height="35.3"/>
<rect x="228.42" y="167.6" width="0.35" height="35.3"/>
<rect x="230.23" y="167.6" width="0.35" height="35.3"/>
<rect x="232.04" y="167.6" width="0.35" height="35.3"/>
<rect x="233.85" y="167.6" width="0.35" height="35.3"/>
<rect x="235.66" y="167.6" width="0.35" height="35.3"/>
<rect x="237.47" y="167.6" width="0.35" height="35.3"/>
<rect x="239.28" y="167.6" width="0.35" height="35.3"/>
<rect x="241.09" y="167.6" width="0.35" height="35.3"/>
<rect x="242.9" y="167.6" width="0.35" height="35.3"/>
<rect x="244.71" y="167.6" width="0.35" height="35.3"/>
<rect x="246.52" y="167.6" width="0.35" height="35.3"/>
<rect x="248.33" y="167.6" width="0.35" height="35.3"/>
<rect x="250.14" y="167.6" width="0.35" height="35.3"/>
<rect x="251.95" y="167.6" width="0.35" height="35.3"/>
<rect x="253.76" y="167.6" width="0.35" height="35.3"/>
<rect x="255.57" y="167.6" width="0.35" height="35.3"/>
<rect x="257.38" y="167.6" width="0.35" height="35.3"/>
<rect x="259.19" y="167.6" width="0.35" height="35.3"/>
<rect x="261" y="167.6" width="0.35" height="35.3"/>
<rect x="262.81" y="167.6" width="0.35" height="35.3"/>
<rect x="264.62" y="167.6" width="0.35" height="35.3"/>
<rect x="266.44" y="167.6" width="0.35" height="35.3"/>
<rect x="268.25" y="167.6" width="0.35" height="35.3"/>
<rect x="270.06" y="167.6" width="0.35" height="35.3"/>
<rect x="271.87" y="167.6" width="0.35" height="35.3"/>
<rect x="273.68" y="167.6" width="0.35" height="35.3"/>
<rect x="275.48" y="167.6" width="0.35" height="35.3"/>
<rect x="277.3" y="167.6" width="0.35" height="35.3"/>
<rect x="279.1" y="167.6" width="0.35" height="35.3"/>
<rect x="280.92" y="167.6" width="0.35" height="35.3"/>
<rect x="282.72" y="167.6" width="0.35" height="35.3"/>
<rect x="284.54" y="167.6" width="0.35" height="35.3"/>
<rect x="286.34" y="167.6" width="0.35" height="35.3"/>
<rect x="288.15" y="167.6" width="0.35" height="35.3"/>
<rect x="289.96" y="167.6" width="0.35" height="35.3"/>
<rect x="291.77" y="167.6" width="0.35" height="35.3"/>
<rect x="293.58" y="167.6" width="0.35" height="35.3"/>
<rect x="295.39" y="167.6" width="0.35" height="35.3"/>
<rect x="297.2" y="167.6" width="0.35" height="35.3"/>
<rect x="299.01" y="167.6" width="0.35" height="35.3"/>
<rect x="300.82" y="167.6" width="0.35" height="35.3"/>
<rect x="302.63" y="167.6" width="0.35" height="35.3"/>
<rect x="304.44" y="167.6" width="0.35" height="35.3"/>
<rect x="306.25" y="167.6" width="0.35" height="35.3"/>
<rect x="308.06" y="167.6" width="0.35" height="35.3"/>
<rect x="309.88" y="167.6" width="0.35" height="35.3"/>
<rect x="311.69" y="167.6" width="0.35" height="35.3"/>
<rect x="313.5" y="167.6" width="0.35" height="35.3"/>
<rect x="315.31" y="167.6" width="0.35" height="35.3"/>
<rect x="317.12" y="167.6" width="0.35" height="35.3"/>
<rect x="318.93" y="167.6" width="0.35" height="35.3"/>
<rect x="320.73" y="167.6" width="0.35" height="35.3"/>
<rect x="322.55" y="167.6" width="0.35" height="35.3"/>
<rect x="324.35" y="167.6" width="0.35" height="35.3"/>
<rect x="326.17" y="167.6" width="0.35" height="35.3"/>
<rect x="327.97" y="167.6" width="0.35" height="35.3"/>
<rect x="329.79" y="167.6" width="0.35" height="35.3"/>
<rect x="331.59" y="167.6" width="0.35" height="35.3"/>
<rect x="333.4" y="167.6" width="0.35" height="35.3"/>
<rect x="335.21" y="167.6" width="0.35" height="35.3"/>
<rect x="337.02" y="167.6" width="0.35" height="35.3"/>
<rect x="338.83" y="167.6" width="0.35" height="35.3"/>
<rect x="340.64" y="167.6" width="0.35" height="35.3"/>
<rect x="342.45" y="167.6" width="0.35" height="35.3"/>
<rect x="344.26" y="167.6" width="0.35" height="35.3"/>
<rect x="346.07" y="167.6" width="0.35" height="35.3"/>
<rect x="347.88" y="167.6" width="0.35" height="35.3"/>
<rect x="349.69" y="167.6" width="0.35" height="35.3"/>
<rect x="351.5" y="167.6" width="0.35" height="35.3"/>
<rect x="353.31" y="167.6" width="0.35" height="35.3"/>
<rect x="355.12" y="167.6" width="0.35" height="35.3"/>
<rect x="356.94" y="167.6" width="0.35" height="35.3"/>
<rect x="358.75" y="167.6" width="0.35" height="35.3"/>
<rect x="360.56" y="167.6" width="0.35" height="35.3"/>
<rect x="362.36" y="167.6" width="0.35" height="35.3"/>
<rect x="364.18" y="167.6" width="0.35" height="35.3"/>
<rect x="365.98" y="167.6" width="0.35" height="35.3"/>
<rect x="367.8" y="167.6" width="0.35" height="35.3"/>
<rect x="369.6" y="167.6" width="0.35" height="35.3"/>
<rect x="371.42" y="167.6" width="0.35" height="35.3"/>
<rect x="373.22" y="167.6" width="0.35" height="35.3"/>
<rect x="375.04" y="167.6" width="0.35" height="35.3"/>
<rect x="376.84" y="167.6" width="0.35" height="35.3"/>
<rect x="378.66" y="167.6" width="0.35" height="35.3"/>
<rect x="136.53" y="229.2" width="0.35" height="35.4"/>
<rect x="138.34" y="229.2" width="0.35" height="35.4"/>
<rect x="140.16" y="229.2" width="0.35" height="35.4"/>
<rect x="141.97" y="229.2" width="0.35" height="35.4"/>
<rect x="143.78" y="229.2" width="0.35" height="35.4"/>
<rect x="145.58" y="229.2" width="0.35" height="35.4"/>
<rect x="147.39" y="229.2" width="0.35" height="35.4"/>
<rect x="149.2" y="229.2" width="0.35" height="35.4"/>
<rect x="151.01" y="229.2" width="0.35" height="35.4"/>
<rect x="152.82" y="229.2" width="0.35" height="35.4"/>
<rect x="154.63" y="229.2" width="0.35" height="35.4"/>
<rect x="156.44" y="229.2" width="0.35" height="35.4"/>
<rect x="158.25" y="229.2" width="0.35" height="35.4"/>
<rect x="160.06" y="229.2" width="0.35" height="35.4"/>
<rect x="161.88" y="229.2" width="0.35" height="35.4"/>
<rect x="163.69" y="229.2" width="0.35" height="35.4"/>
<rect x="165.5" y="229.2" width="0.35" height="35.4"/>
<rect x="167.31" y="229.2" width="0.35" height="35.4"/>
<rect x="169.12" y="229.2" width="0.35" height="35.4"/>
<rect x="170.93" y="229.2" width="0.35" height="35.4"/>
<rect x="172.73" y="229.2" width="0.35" height="35.4"/>
<rect x="174.54" y="229.2" width="0.35" height="35.4"/>
<rect x="176.35" y="229.2" width="0.35" height="35.4"/>
<rect x="178.16" y="229.2" width="0.35" height="35.4"/>
<rect x="179.97" y="229.2" width="0.35" height="35.4"/>
<rect x="181.78" y="229.2" width="0.35" height="35.4"/>
<rect x="183.59" y="229.2" width="0.35" height="35.4"/>
<rect x="185.41" y="229.2" width="0.35" height="35.4"/>
<rect x="187.22" y="229.2" width="0.35" height="35.4"/>
<rect x="189.03" y="229.2" width="0.35" height="35.4"/>
<rect x="190.83" y="229.2" width="0.35" height="35.4"/>
<rect x="192.64" y="229.2" width="0.35" height="35.4"/>
<rect x="194.45" y="229.2" width="0.35" height="35.4"/>
<rect x="196.26" y="229.2" width="0.35" height="35.4"/>
<rect x="198.07" y="229.2" width="0.35" height="35.4"/>
<rect x="199.88" y="229.2" width="0.35" height="35.4"/>
<rect x="201.69" y="229.2" width="0.35" height="35.4"/>
<rect x="203.5" y="229.2" width="0.35" height="35.4"/>
<rect x="205.31" y="229.2" width="0.35" height="35.4"/>
<rect x="207.12" y="229.2" width="0.35" height="35.4"/>
<rect x="212.13" y="229.2" width="0.35" height="35.4"/>
<rect x="213.94" y="229.2" width="0.35" height="35.4"/>
<rect x="215.75" y="229.2" width="0.35" height="35.4"/>
<rect x="217.56" y="229.2" width="0.35" height="35.4"/>
<rect x="219.38" y="229.2" width="0.35" height="35.4"/>
<rect x="221.19" y="229.2" width="0.35" height="35.4"/>
<rect x="222.99" y="229.2" width="0.35" height="35.4"/>
<rect x="224.8" y="229.2" width="0.35" height="35.4"/>
<rect x="226.61" y="229.2" width="0.35" height="35.4"/>
<rect x="228.42" y="229.2" width="0.35" height="35.4"/>
<rect x="230.23" y="229.2" width="0.35" height="35.4"/>
<rect x="232.04" y="229.2" width="0.35" height="35.4"/>
<rect x="233.85" y="229.2" width="0.35" height="35.4"/>
<rect x="235.66" y="229.2" width="0.35" height="35.4"/>
<rect x="237.47" y="229.2" width="0.35" height="35.4"/>
<rect x="239.28" y="229.2" width="0.35" height="35.4"/>
<rect x="241.09" y="229.2" width="0.35" height="35.4"/>
<rect x="242.9" y="229.2" width="0.35" height="35.4"/>
<rect x="244.71" y="229.2" width="0.35" height="35.4"/>
<rect x="246.52" y="229.2" width="0.35" height="35.4"/>
<rect x="248.33" y="229.2" width="0.35" height="35.4"/>
<rect x="250.14" y="229.2" width="0.35" height="35.4"/>
<rect x="251.95" y="229.2" width="0.35" height="35.4"/>
<rect x="253.76" y="229.2" width="0.35" height="35.4"/>
<rect x="255.57" y="229.2" width="0.35" height="35.4"/>
<rect x="257.38" y="229.2" width="0.35" height="35.4"/>
<rect x="259.19" y="229.2" width="0.35" height="35.4"/>
<rect x="261" y="229.2" width="0.35" height="35.4"/>
<rect x="262.81" y="229.2" width="0.35" height="35.4"/>
<rect x="264.62" y="229.2" width="0.35" height="35.4"/>
<rect x="266.44" y="229.2" width="0.35" height="35.4"/>
<rect x="268.25" y="229.2" width="0.35" height="35.4"/>
<rect x="270.06" y="229.2" width="0.35" height="35.4"/>
<rect x="271.87" y="229.2" width="0.35" height="35.4"/>
<rect x="273.68" y="229.2" width="0.35" height="35.4"/>
<rect x="275.48" y="229.2" width="0.35" height="35.4"/>
<rect x="277.3" y="229.2" width="0.35" height="35.4"/>
<rect x="279.1" y="229.2" width="0.35" height="35.4"/>
<rect x="280.92" y="229.2" width="0.35" height="35.4"/>
<rect x="282.72" y="229.2" width="0.35" height="35.4"/>
<rect x="284.54" y="229.2" width="0.35" height="35.4"/>
<rect x="286.34" y="229.2" width="0.35" height="35.4"/>
<rect x="288.15" y="229.2" width="0.35" height="35.4"/>
<rect x="289.96" y="229.2" width="0.35" height="35.4"/>
<rect x="291.77" y="229.2" width="0.35" height="35.4"/>
<rect x="293.58" y="229.2" width="0.35" height="35.4"/>
<rect x="295.39" y="229.2" width="0.35" height="35.4"/>
<rect x="297.2" y="229.2" width="0.35" height="35.4"/>
<rect x="299.01" y="229.2" width="0.35" height="35.4"/>
<rect x="300.82" y="229.2" width="0.35" height="35.4"/>
<rect x="302.63" y="229.2" width="0.35" height="35.4"/>
<rect x="304.44" y="229.2" width="0.35" height="35.4"/>
<rect x="306.25" y="229.2" width="0.35" height="35.4"/>
<rect x="308.06" y="229.2" width="0.35" height="35.4"/>
<rect x="309.88" y="229.2" width="0.35" height="35.4"/>
<rect x="311.69" y="229.2" width="0.35" height="35.4"/>
<rect x="313.5" y="229.2" width="0.35" height="35.4"/>
<rect x="315.31" y="229.2" width="0.35" height="35.4"/>
<rect x="317.12" y="229.2" width="0.35" height="35.4"/>
<rect x="318.93" y="229.2" width="0.35" height="35.4"/>
<rect x="320.73" y="229.2" width="0.35" height="35.4"/>
<rect x="322.55" y="229.2" width="0.35" height="35.4"/>
<rect x="324.35" y="229.2" width="0.35" height="35.4"/>
<rect x="326.17" y="229.2" width="0.35" height="35.4"/>
<rect x="327.97" y="229.2" width="0.35" height="35.4"/>
<rect x="329.79" y="229.2" width="0.35" height="35.4"/>
<rect x="331.59" y="229.2" width="0.35" height="35.4"/>
<rect x="333.4" y="229.2" width="0.35" height="35.4"/>
<rect x="335.21" y="229.2" width="0.35" height="35.4"/>
<rect x="337.02" y="229.2" width="0.35" height="35.4"/>
<rect x="338.83" y="229.2" width="0.35" height="35.4"/>
<rect x="340.64" y="229.2" width="0.35" height="35.4"/>
<rect x="342.45" y="229.2" width="0.35" height="35.4"/>
<rect x="344.26" y="229.2" width="0.35" height="35.4"/>
<rect x="346.07" y="229.2" width="0.35" height="35.4"/>
<rect x="347.88" y="229.2" width="0.35" height="35.4"/>
<rect x="349.69" y="229.2" width="0.35" height="35.4"/>
<rect x="351.5" y="229.2" width="0.35" height="35.4"/>
<rect x="353.31" y="229.2" width="0.35" height="35.4"/>
<rect x="355.12" y="229.2" width="0.35" height="35.4"/>
<rect x="356.94" y="229.2" width="0.35" height="35.4"/>
<rect x="358.75" y="229.2" width="0.35" height="35.4"/>
<rect x="360.56" y="229.2" width="0.35" height="35.4"/>
<rect x="362.36" y="229.2" width="0.35" height="35.4"/>
<rect x="364.18" y="229.2" width="0.35" height="35.4"/>
<rect x="365.98" y="229.2" width="0.35" height="35.4"/>
<rect x="367.8" y="229.2" width="0.35" height="35.4"/>
<rect x="369.6" y="229.2" width="0.35" height="35.4"/>
<rect x="371.42" y="229.2" width="0.35" height="35.4"/>
<rect x="373.22" y="229.2" width="0.35" height="35.4"/>
<rect x="375.04" y="229.2" width="0.35" height="35.4"/>
<rect x="376.84" y="229.2" width="0.35" height="35.4"/>
<rect x="378.66" y="229.2" width="0.35" height="35.4"/>
<rect x="136.53" y="290.7" width="0.35" height="23.1"/>
<rect x="138.34" y="290.7" width="0.35" height="23.1"/>
<rect x="140.16" y="290.7" width="0.35" height="23.1"/>
<rect x="141.97" y="290.7" width="0.35" height="23.1"/>
<rect x="143.78" y="290.7" width="0.35" height="23.1"/>
<rect x="145.58" y="290.7" width="0.35" height="23.1"/>
<rect x="147.39" y="290.7" width="0.35" height="23.1"/>
<rect x="149.2" y="290.7" width="0.35" height="23.1"/>
<rect x="151.01" y="290.7" width="0.35" height="23.1"/>
<rect x="152.82" y="290.7" width="0.35" height="23.1"/>
<rect x="154.63" y="290.7" width="0.35" height="23.1"/>
<rect x="156.44" y="290.7" width="0.35" height="23.1"/>
<rect x="158.25" y="290.7" width="0.35" height="23.1"/>
<rect x="160.06" y="290.7" width="0.35" height="23.1"/>
<rect x="161.88" y="290.7" width="0.35" height="23.1"/>
<rect x="163.69" y="290.7" width="0.35" height="23.1"/>
<rect x="165.5" y="290.7" width="0.35" height="23.1"/>
<rect x="167.31" y="290.7" width="0.35" height="23.1"/>
<rect x="169.12" y="290.7" width="0.35" height="23.1"/>
<rect x="170.93" y="290.7" width="0.35" height="23.1"/>
<rect x="172.73" y="290.7" width="0.35" height="23.1"/>
<rect x="174.54" y="290.7" width="0.35" height="23.1"/>
<rect x="176.35" y="290.7" width="0.35" height="23.1"/>
<rect x="178.16" y="290.7" width="0.35" height="23.1"/>
<rect x="179.97" y="290.7" width="0.35" height="23.1"/>
<rect x="181.78" y="290.7" width="0.35" height="23.1"/>
<rect x="183.59" y="290.7" width="0.35" height="23.1"/>
<rect x="185.41" y="290.7" width="0.35" height="23.1"/>
<rect x="187.22" y="290.7" width="0.35" height="23.1"/>
<rect x="189.03" y="290.7" width="0.35" height="23.1"/>
<rect x="190.83" y="290.7" width="0.35" height="23.1"/>
<rect x="192.64" y="290.7" width="0.35" height="23.1"/>
<rect x="194.45" y="290.7" width="0.35" height="23.1"/>
<rect x="196.26" y="290.7" width="0.35" height="23.1"/>
<rect x="198.07" y="290.7" width="0.35" height="23.1"/>
<rect x="199.88" y="290.7" width="0.35" height="23.1"/>
<rect x="201.69" y="290.7" width="0.35" height="23.1"/>
<rect x="203.5" y="290.7" width="0.35" height="23.1"/>
<rect x="205.31" y="290.7" width="0.35" height="23.1"/>
<rect x="207.12" y="290.7" width="0.35" height="23.1"/>
<rect x="212.13" y="290.7" width="0.35" height="23.1"/>
<rect x="213.94" y="290.7" width="0.35" height="23.1"/>
<rect x="215.75" y="290.7" width="0.35" height="23.1"/>
<rect x="217.56" y="290.7" width="0.35" height="23.1"/>
<rect x="219.38" y="290.7" width="0.35" height="23.1"/>
<rect x="221.19" y="290.7" width="0.35" height="23.1"/>
<rect x="222.99" y="290.7" width="0.35" height="23.1"/>
<rect x="224.8" y="290.7" width="0.35" height="23.1"/>
<rect x="226.61" y="290.7" width="0.35" height="23.1"/>
<rect x="228.42" y="290.7" width="0.35" height="23.1"/>
<rect x="230.23" y="290.7" width="0.35" height="23.1"/>
<rect x="232.04" y="290.7" width="0.35" height="23.1"/>
<rect x="233.85" y="290.7" width="0.35" height="23.1"/>
<rect x="235.66" y="290.7" width="0.35" height="23.1"/>
<rect x="237.47" y="290.7" width="0.35" height="23.1"/>
<rect x="239.28" y="290.7" width="0.35" height="23.1"/>
<rect x="241.09" y="290.7" width="0.35" height="23.1"/>
<rect x="242.9" y="290.7" width="0.35" height="23.1"/>
<rect x="244.71" y="290.7" width="0.35" height="23.1"/>
<rect x="246.52" y="290.7" width="0.35" height="23.1"/>
<rect x="248.33" y="290.7" width="0.35" height="23.1"/>
<rect x="250.14" y="290.7" width="0.35" height="23.1"/>
<rect x="251.95" y="290.7" width="0.35" height="23.1"/>
<rect x="253.76" y="290.7" width="0.35" height="23.1"/>
<rect x="255.57" y="290.7" width="0.35" height="23.1"/>
<rect x="257.38" y="290.7" width="0.35" height="23.1"/>
<rect x="259.19" y="290.7" width="0.35" height="23.1"/>
<rect x="261" y="290.7" width="0.35" height="23.1"/>
<rect x="262.81" y="290.7" width="0.35" height="23.1"/>
<rect x="264.62" y="290.7" width="0.35" height="23.1"/>
<rect x="266.44" y="290.7" width="0.35" height="23.1"/>
<rect x="268.25" y="290.7" width="0.35" height="23.1"/>
<rect x="270.06" y="290.7" width="0.35" height="23.1"/>
<rect x="271.87" y="290.7" width="0.35" height="23.1"/>
<rect x="273.68" y="290.7" width="0.35" height="23.1"/>
<rect x="275.48" y="290.7" width="0.35" height="23.1"/>
<rect x="277.3" y="290.7" width="0.35" height="23.1"/>
<rect x="279.1" y="290.7" width="0.35" height="23.1"/>
<rect x="280.92" y="290.7" width="0.35" height="23.1"/>
<rect x="282.72" y="290.7" width="0.35" height="23.1"/>
<rect x="284.54" y="290.7" width="0.35" height="23.1"/>
<rect x="286.34" y="290.7" width="0.35" height="23.1"/>
<rect x="288.15" y="290.7" width="0.35" height="23.1"/>
<rect x="289.96" y="290.7" width="0.35" height="23.1"/>
<rect x="291.77" y="290.7" width="0.35" height="23.1"/>
<rect x="293.58" y="290.7" width="0.35" height="23.1"/>
<rect x="295.39" y="290.7" width="0.35" height="23.1"/>
<rect x="297.2" y="290.7" width="0.35" height="23.1"/>
<rect x="299.01" y="290.7" width="0.35" height="23.1"/>
<rect x="300.82" y="290.7" width="0.35" height="23.1"/>
<rect x="302.63" y="290.7" width="0.35" height="23.1"/>
<rect x="304.44" y="290.7" width="0.35" height="23.1"/>
<rect x="306.25" y="290.7" width="0.35" height="23.1"/>
<rect x="308.06" y="290.7" width="0.35" height="23.1"/>
<rect x="309.88" y="290.7" width="0.35" height="23.1"/>
<rect x="311.69" y="290.7" width="0.35" height="23.1"/>
<rect x="313.5" y="290.7" width="0.35" height="23.1"/>
<rect x="315.31" y="290.7" width="0.35" height="23.1"/>
<rect x="317.12" y="290.7" width="0.35" height="23.1"/>
<rect x="318.93" y="290.7" width="0.35" height="23.1"/>
<rect x="320.73" y="290.7" width="0.35" height="23.1"/>
<rect x="322.55" y="290.7" width="0.35" height="23.1"/>
<rect x="324.35" y="290.7" width="0.35" height="23.1"/>
<rect x="326.17" y="290.7" width="0.35" height="23.1"/>
<rect x="327.97" y="290.7" width="0.35" height="23.1"/>
<rect x="329.79" y="290.7" width="0.35" height="23.1"/>
<rect x="331.59" y="290.7" width="0.35" height="23.1"/>
<rect x="333.4" y="290.7" width="0.35" height="23.1"/>
<rect x="335.21" y="290.7" width="0.35" height="23.1"/>
<rect x="337.02" y="290.7" width="0.35" height="23.1"/>
<rect x="338.83" y="290.7" width="0.35" height="23.1"/>
<rect x="340.64" y="290.7" width="0.35" height="23.1"/>
<rect x="342.45" y="290.7" width="0.35" height="23.1"/>
<rect x="344.26" y="290.7" width="0.35" height="23.1"/>
<rect x="346.07" y="290.7" width="0.35" height="23.1"/>
<rect x="347.88" y="290.7" width="0.35" height="23.1"/>
<rect x="349.69" y="290.7" width="0.35" height="23.1"/>
<rect x="351.5" y="290.7" width="0.35" height="23.1"/>
<rect x="353.31" y="290.7" width="0.35" height="23.1"/>
<rect x="355.12" y="290.7" width="0.35" height="23.1"/>
<rect x="356.94" y="290.7" width="0.35" height="23.1"/>
<rect x="358.75" y="290.7" width="0.35" height="23.1"/>
<rect x="360.56" y="290.7" width="0.35" height="23.1"/>
<rect x="362.36" y="290.7" width="0.35" height="23.1"/>
<rect x="364.18" y="290.7" width="0.35" height="23.1"/>
<rect x="365.98" y="290.7" width="0.35" height="23.1"/>
<rect x="367.8" y="290.7" width="0.35" height="23.1"/>
<rect x="369.6" y="290.7" width="0.35" height="23.1"/>
<rect x="371.42" y="290.7" width="0.35" height="23.1"/>
<rect x="373.22" y="290.7" width="0.35" height="23.1"/>
<rect x="375.04" y="290.7" width="0.35" height="23.1"/>
<rect x="376.84" y="290.7" width="0.35" height="23.1"/>
<rect x="378.66" y="290.7" width="0.35" height="23.1"/>
<rect x="136.53" y="340.4" width="0.35" height="47.8"/>
<rect x="138.34" y="340.4" width="0.35" height="47.8"/>
<rect x="140.16" y="340.4" width="0.35" height="47.8"/>
<rect x="141.97" y="340.4" width="0.35" height="47.8"/>
<rect x="143.78" y="340.4" width="0.35" height="47.8"/>
<rect x="145.58" y="340.4" width="0.35" height="47.8"/>
<rect x="147.39" y="340.4" width="0.35" height="47.8"/>
<rect x="149.2" y="340.4" width="0.35" height="47.8"/>
<rect x="151.01" y="340.4" width="0.35" height="47.8"/>
<rect x="152.82" y="340.4" width="0.35" height="47.8"/>
<rect x="154.63" y="340.4" width="0.35" height="47.8"/>
<rect x="156.44" y="340.4" width="0.35" height="47.8"/>
<rect x="158.25" y="340.4" width="0.35" height="47.8"/>
<rect x="160.06" y="340.4" width="0.35" height="47.8"/>
<rect x="161.88" y="340.4" width="0.35" height="47.8"/>
<rect x="163.69" y="340.4" width="0.35" height="47.8"/>
<rect x="165.5" y="340.4" width="0.35" height="47.8"/>
<rect x="167.31" y="340.4" width="0.35" height="47.8"/>
<rect x="169.12" y="340.4" width="0.35" height="47.8"/>
<rect x="170.93" y="340.4" width="0.35" height="47.8"/>
<rect x="172.73" y="340.4" width="0.35" height="47.8"/>
<rect x="174.54" y="340.4" width="0.35" height="47.8"/>
<rect x="176.35" y="340.4" width="0.35" height="47.8"/>
<rect x="178.16" y="340.4" width="0.35" height="47.8"/>
<rect x="179.97" y="340.4" width="0.35" height="47.8"/>
<rect x="181.78" y="340.4" width="0.35" height="47.8"/>
<rect x="183.59" y="340.4" width="0.35" height="47.8"/>
<rect x="185.41" y="340.4" width="0.35" height="47.8"/>
<rect x="187.22" y="340.4" width="0.35" height="47.8"/>
<rect x="189.03" y="340.4" width="0.35" height="47.8"/>
<rect x="190.83" y="340.4" width="0.35" height="47.8"/>
<rect x="192.64" y="340.4" width="0.35" height="47.8"/>
<rect x="194.45" y="340.4" width="0.35" height="47.8"/>
<rect x="196.26" y="340.4" width="0.35" height="47.8"/>
<rect x="198.07" y="340.4" width="0.35" height="47.8"/>
<rect x="199.88" y="340.4" width="0.35" height="47.8"/>
<rect x="201.69" y="340.4" width="0.35" height="47.8"/>
<rect x="203.5" y="340.4" width="0.35" height="47.8"/>
<rect x="205.31" y="340.4" width="0.35" height="47.8"/>
<rect x="207.12" y="340.4" width="0.35" height="47.8"/>
<rect x="212.13" y="340.4" width="0.35" height="47.8"/>
<rect x="213.94" y="340.4" width="0.35" height="47.8"/>
<rect x="215.75" y="340.4" width="0.35" height="47.8"/>
<rect x="217.56" y="340.4" width="0.35" height="47.8"/>
<rect x="219.38" y="340.4" width="0.35" height="47.8"/>
<rect x="221.19" y="340.4" width="0.35" height="47.8"/>
<rect x="222.99" y="340.4" width="0.35" height="47.8"/>
<rect x="224.8" y="340.4" width="0.35" height="47.8"/>
<rect x="226.61" y="340.4" width="0.35" height="47.8"/>
<rect x="228.42" y="340.4" width="0.35" height="47.8"/>
<rect x="230.23" y="340.4" width="0.35" height="47.8"/>
<rect x="232.04" y="340.4" width="0.35" height="47.8"/>
<rect x="233.85" y="340.4" width="0.35" height="47.8"/>
<rect x="235.66" y="340.4" width="0.35" height="47.8"/>
<rect x="237.47" y="340.4" width="0.35" height="47.8"/>
<rect x="239.28" y="340.4" width="0.35" height="47.8"/>
<rect x="241.09" y="340.4" width="0.35" height="47.8"/>
<rect x="242.9" y="340.4" width="0.35" height="47.8"/>
<rect x="244.71" y="340.4" width="0.35" height="47.8"/>
<rect x="246.52" y="340.4" width="0.35" height="47.8"/>
<rect x="248.33" y="340.4" width="0.35" height="47.8"/>
<rect x="250.14" y="340.4" width="0.35" height="47.8"/>
<rect x="251.95" y="340.4" width="0.35" height="47.8"/>
<rect x="253.76" y="340.4" width="0.35" height="47.8"/>
<rect x="255.57" y="340.4" width="0.35" height="47.8"/>
<rect x="257.38" y="340.4" width="0.35" height="47.8"/>
<rect x="259.19" y="340.4" width="0.35" height="47.8"/>
<rect x="261" y="340.4" width="0.35" height="47.8"/>
<rect x="262.81" y="340.4" width="0.35" height="47.8"/>
<rect x="264.62" y="340.4" width="0.35" height="47.8"/>
<rect x="266.44" y="340.4" width="0.35" height="47.8"/>
<rect x="268.25" y="340.4" width="0.35" height="47.8"/>
<rect x="270.06" y="340.4" width="0.35" height="47.8"/>
<rect x="271.87" y="340.4" width="0.35" height="47.8"/>
<rect x="273.68" y="340.4" width="0.35" height="47.8"/>
<rect x="275.48" y="340.4" width="0.35" height="47.8"/>
<rect x="277.3" y="340.4" width="0.35" height="47.8"/>
<rect x="279.1" y="340.4" width="0.35" height="47.8"/>
<rect x="280.92" y="340.4" width="0.35" height="47.8"/>
<rect x="282.72" y="340.4" width="0.35" height="47.8"/>
<rect x="284.54" y="340.4" width="0.35" height="47.8"/>
<rect x="286.34" y="340.4" width="0.35" height="47.8"/>
<rect x="288.15" y="340.4" width="0.35" height="47.8"/>
<rect x="289.96" y="340.4" width="0.35" height="47.8"/>
<rect x="291.77" y="340.4" width="0.35" height="47.8"/>
<rect x="293.58" y="340.4" width="0.35" height="47.8"/>
<rect x="295.39" y="340.4" width="0.35" height="47.8"/>
<rect x="297.2" y="340.4" width="0.35" height="47.8"/>
<rect x="299.01" y="340.4" width="0.35" height="47.8"/>
<rect x="300.82" y="340.4" width="0.35" height="47.8"/>
<rect x="302.63" y="340.4" width="0.35" height="47.8"/>
<rect x="304.44" y="340.4" width="0.35" height="47.8"/>
<rect x="306.25" y="340.4" width="0.35" height="47.8"/>
<rect x="308.06" y="340.4" width="0.35" height="47.8"/>
<rect x="309.88" y="340.4" width="0.35" height="47.8"/>
<rect x="311.69" y="340.4" width="0.35" height="47.8"/>
<rect x="313.5" y="340.4" width="0.35" height="47.8"/>
<rect x="315.31" y="340.4" width="0.35" height="47.8"/>
<rect x="317.12" y="340.4" width="0.35" height="47.8"/>
<rect x="318.93" y="340.4" width="0.35" height="47.8"/>
<rect x="320.73" y="340.4" width="0.35" height="47.8"/>
<rect x="322.55" y="340.4" width="0.35" height="47.8"/>
<rect x="324.35" y="340.4" width="0.35" height="47.8"/>
<rect x="326.17" y="340.4" width="0.35" height="47.8"/>
<rect x="327.97" y="340.4" width="0.35" height="47.8"/>
<rect x="329.79" y="340.4" width="0.35" height="47.8"/>
<rect x="331.59" y="340.4" width="0.35" height="47.8"/>
<rect x="333.4" y="340.4" width="0.35" height="47.8"/>
<rect x="335.21" y="340.4" width="0.35" height="47.8"/>
<rect x="337.02" y="340.4" width="0.35" height="47.8"/>
<rect x="338.83" y="340.4" width="0.35" height="47.8"/>
<rect x="340.64" y="340.4" width="0.35" height="47.8"/>
<rect x="342.45" y="340.4" width="0.35" height="47.8"/>
<rect x="344.26" y="340.4" width="0.35" height="47.8"/>
<rect x="346.07" y="340.4" width="0.35" height="47.8"/>
<rect x="347.88" y="340.4" width="0.35" height="47.8"/>
<rect x="349.69" y="340.4" width="0.35" height="47.8"/>
<rect x="351.5" y="340.4" width="0.35" height="47.8"/>
<rect x="353.31" y="340.4" width="0.35" height="47.8"/>
<rect x="355.12" y="340.4" width="0.35" height="47.8"/>
<rect x="356.94" y="340.4" width="0.35" height="47.8"/>
<rect x="358.75" y="340.4" width="0.35" height="47.8"/>
<rect x="360.56" y="340.4" width="0.35" height="47.8"/>
<rect x="362.36" y="340.4" width="0.35" height="47.8"/>
<rect x="364.18" y="340.4" width="0.35" height="47.8"/>
<rect x="365.98" y="340.4" width="0.35" height="47.8"/>
<rect x="367.8" y="340.4" width="0.35" height="47.8"/>
<rect x="369.6" y="340.4" width="0.35" height="47.8"/>
<rect x="371.42" y="340.4" width="0.35" height="47.8"/>
<rect x="373.22" y="340.4" width="0.35" height="47.8"/>
<rect x="375.04" y="340.4" width="0.35" height="47.8"/>
<rect x="376.84" y="340.4" width="0.35" height="47.8"/>
<rect x="378.66" y="340.4" width="0.35" height="47.8"/>
<rect x="136.53" y="414.8" width="0.35" height="35.2"/>
<rect x="138.34" y="414.8" width="0.35" height="35.2"/>
<rect x="140.16" y="414.8" width="0.35" height="35.2"/>
<rect x="141.97" y="414.8" width="0.35" height="35.2"/>
<rect x="143.78" y="414.8" width="0.35" height="35.2"/>
<rect x="145.58" y="414.8" width="0.35" height="35.2"/>
<rect x="147.39" y="414.8" width="0.35" height="35.2"/>
<rect x="149.2" y="414.8" width="0.35" height="35.2"/>
<rect x="151.01" y="414.8" width="0.35" height="35.2"/>
<rect x="152.82" y="414.8" width="0.35" height="35.2"/>
<rect x="154.63" y="414.8" width="0.35" height="35.2"/>
<rect x="156.44" y="414.8" width="0.35" height="35.2"/>
<rect x="158.25" y="414.8" width="0.35" height="35.2"/>
<rect x="160.06" y="414.8" width="0.35" height="35.2"/>
<rect x="161.88" y="414.8" width="0.35" height="35.2"/>
<rect x="163.69" y="414.8" width="0.35" height="35.2"/>
<rect x="165.5" y="414.8" width="0.35" height="35.2"/>
<rect x="167.31" y="414.8" width="0.35" height="35.2"/>
<rect x="169.12" y="414.8" width="0.35" height="35.2"/>
<rect x="170.93" y="414.8" width="0.35" height="35.2"/>
<rect x="172.73" y="414.8" width="0.35" height="35.2"/>
<rect x="174.54" y="414.8" width="0.35" height="35.2"/>
<rect x="176.35" y="414.8" width="0.35" height="35.2"/>
<rect x="178.16" y="414.8" width="0.35" height="35.2"/>
<rect x="179.97" y="414.8" width="0.35" height="35.2"/>
<rect x="181.78" y="414.8" width="0.35" height="35.2"/>
<rect x="183.59" y="414.8" width="0.35" height="35.2"/>
<rect x="185.41" y="414.8" width="0.35" height="35.2"/>
<rect x="187.22" y="414.8" width="0.35" height="35.2"/>
<rect x="189.03" y="414.8" width="0.35" height="35.2"/>
<rect x="190.83" y="414.8" width="0.35" height="35.2"/>
<rect x="192.64" y="414.8" width="0.35" height="35.2"/>
<rect x="194.45" y="414.8" width="0.35" height="35.2"/>
<rect x="196.26" y="414.8" width="0.35" height="35.2"/>
<rect x="198.07" y="414.8" width="0.35" height="35.2"/>
<rect x="199.88" y="414.8" width="0.35" height="35.2"/>
<rect x="201.69" y="414.8" width="0.35" height="35.2"/>
<rect x="203.5" y="414.8" width="0.35" height="35.2"/>
<rect x="205.31" y="414.8" width="0.35" height="35.2"/>
<rect x="207.12" y="414.8" width="0.35" height="35.2"/>
<rect x="212.13" y="414.8" width="0.35" height="35.2"/>
<rect x="213.94" y="414.8" width="0.35" height="35.2"/>
<rect x="215.75" y="414.8" width="0.35" height="35.2"/>
<rect x="217.56" y="414.8" width="0.35" height="35.2"/>
<rect x="219.38" y="414.8" width="0.35" height="35.2"/>
<rect x="221.19" y="414.8" width="0.35" height="35.2"/>
<rect x="222.99" y="414.8" width="0.35" height="35.2"/>
<rect x="224.8" y="414.8" width="0.35" height="35.2"/>
<rect x="226.61" y="414.8" width="0.35" height="35.2"/>
<rect x="228.42" y="414.8" width="0.35" height="35.2"/>
<rect x="230.23" y="414.8" width="0.35" height="35.2"/>
<rect x="232.04" y="414.8" width="0.35" height="35.2"/>
<rect x="233.85" y="414.8" width="0.35" height="35.2"/>
<rect x="235.66" y="414.8" width="0.35" height="35.2"/>
<rect x="237.47" y="414.8" width="0.35" height="35.2"/>
<rect x="239.28" y="414.8" width="0.35" height="35.2"/>
<rect x="241.09" y="414.8" width="0.35" height="35.2"/>
<rect x="242.9" y="414.8" width="0.35" height="35.2"/>
<rect x="244.71" y="414.8" width="0.35" height="35.2"/>
<rect x="246.52" y="414.8" width="0.35" height="35.2"/>
<rect x="248.33" y="414.8" width="0.35" height="35.2"/>
<rect x="250.14" y="414.8" width="0.35" height="35.2"/>
<rect x="251.95" y="414.8" width="0.35" height="35.2"/>
<rect x="253.76" y="414.8" width="0.35" height="35.2"/>
<rect x="255.57" y="414.8" width="0.35" height="35.2"/>
<rect x="257.38" y="414.8" width="0.35" height="35.2"/>
<rect x="259.19" y="414.8" width="0.35" height="35.2"/>
<rect x="261" y="414.8" width="0.35" height="35.2"/>
<rect x="262.81" y="414.8" width="0.35" height="35.2"/>
<rect x="264.62" y="414.8" width="0.35" height="35.2"/>
<rect x="266.44" y="414.8" width="0.35" height="35.2"/>
<rect x="268.25" y="414.8" width="0.35" height="35.2"/>
<rect x="270.06" y="414.8" width="0.35" height="35.2"/>
<rect x="271.87" y="414.8" width="0.35" height="35.2"/>
<rect x="273.68" y="414.8" width="0.35" height="35.2"/>
<rect x="275.48" y="414.8" width="0.35" height="35.2"/>
<rect x="277.3" y="414.8" width="0.35" height="35.2"/>
<rect x="279.1" y="414.8" width="0.35" height="35.2"/>
<rect x="280.92" y="414.8" width="0.35" height="35.2"/>
<rect x="282.72" y="414.8" width="0.35" height="35.2"/>
<rect x="284.54" y="414.8" width="0.35" height="35.2"/>
<rect x="286.34" y="414.8" width="0.35" height="35.2"/>
<rect x="288.15" y="414.8" width="0.35" height="35.2"/>
<rect x="289.96" y="414.8" width="0.35" height="35.2"/>
<rect x="291.77" y="414.8" width="0.35" height="35.2"/>
<rect x="293.58" y="414.8" width="0.35" height="35.2"/>
<rect x="295.39" y="414.8" width="0.35" height="35.2"/>
<rect x="297.2" y="414.8" width="0.35" height="35.2"/>
<rect x="299.01" y="414.8" width="0.35" height="35.2"/>
<rect x="300.82" y="414.8" width="0.35" height="35.2"/>
<rect x="302.63" y="414.8" width="0.35" height="35.2"/>
<rect x="304.44" y="414.8" width="0.35" height="35.2"/>
<rect x="306.25" y="414.8" width="0.35" height="35.2"/>
<rect x="308.06" y="414.8" width="0.35" height="35.2"/>
<rect x="309.88" y="414.8" width="0.35" height="35.2"/>
<rect x="311.69" y="414.8" width="0.35" height="35.2"/>
<rect x="313.5" y="414.8" width="0.35" height="35.2"/>
<rect x="315.31" y="414.8" width="0.35" height="35.2"/>
<rect x="317.12" y="414.8" width="0.35" height="35.2"/>
<rect x="318.93" y="414.8" width="0.35" height="35.2"/>
<rect x="320.73" y="414.8" width="0.35" height="35.2"/>
<rect x="322.55" y="414.8" width="0.35" height="35.2"/>
<rect x="324.35" y="414.8" width="0.35" height="35.2"/>
<rect x="326.17" y="414.8" width="0.35" height="35.2"/>
<rect x="327.97" y="414.8" width="0.35" height="35.2"/>
<rect x="329.79" y="414.8" width="0.35" height="35.2"/>
<rect x="331.59" y="414.8" width="0.35" height="35.2"/>
<rect x="333.4" y="414.8" width="0.35" height="35.2"/>
<rect x="335.21" y="414.8" width="0.35" height="35.2"/>
<rect x="337.02" y="414.8" width="0.35" height="35.2"/>
<rect x="338.83" y="414.8" width="0.35" height="35.2"/>
<rect x="340.64" y="414.8" width="0.35" height="35.2"/>
<rect x="342.45" y="414.8" width="0.35" height="35.2"/>
<rect x="344.26" y="414.8" width="0.35" height="35.2"/>
<rect x="346.07" y="414.8" width="0.35" height="35.2"/>
<rect x="347.88" y="414.8" width="0.35" height="35.2"/>
<rect x="349.69" y="414.8" width="0.35" height="35.2"/>
<rect x="351.5" y="414.8" width="0.35" height="35.2"/>
<rect x="353.31" y="414.8" width="0.35" height="35.2"/>
<rect x="355.12" y="414.8" width="0.35" height="35.2"/>
<rect x="356.94" y="414.8" width="0.35" height="35.2"/>
<rect x="358.75" y="414.8" width="0.35" height="35.2"/>
<rect x="360.56" y="414.8" width="0.35" height="35.2"/>
<rect x="362.36" y="414.8" width="0.35" height="35.2"/>
<rect x="364.18" y="414.8" width="0.35" height="35.2"/>
<rect x="365.98" y="414.8" width="0.35" height="35.2"/>
<rect x="367.8" y="414.8" width="0.35" height="35.2"/>
<rect x="369.6" y="414.8" width="0.35" height="35.2"/>
<rect x="371.42" y="414.8" width="0.35" height="35.2"/>
<rect x="373.22" y="414.8" width="0.35" height="35.2"/>
<rect x="375.04" y="414.8" width="0.35" height="35.2"/>
<rect x="376.84" y="414.8" width="0.35" height="35.2"/>
<rect x="378.66" y="414.8" width="0.35" height="35.2"/>
<rect x="136.53" y="476.1" width="0.35" height="82.4"/>
<rect x="138.34" y="476.1" width="0.35" height="82.4"/>
<rect x="140.16" y="476.1" width="0.35" height="82.4"/>
<rect x="141.97" y="476.1" width="0.35" height="82.4"/>
<rect x="143.78" y="476.1" width="0.35" height="82.4"/>
<rect x="145.58" y="476.1" width="0.35" height="82.4"/>
<rect x="147.39" y="476.1" width="0.35" height="82.4"/>
<rect x="149.2" y="476.1" width="0.35" height="82.4"/>
<rect x="151.01" y="476.1" width="0.35" height="82.4"/>
<rect x="152.82" y="476.1" width="0.35" height="82.4"/>
<rect x="154.63" y="476.1" width="0.35" height="82.4"/>
<rect x="156.44" y="476.1" width="0.35" height="82.4"/>
<rect x="158.25" y="476.1" width="0.35" height="82.4"/>
<rect x="160.06" y="476.1" width="0.35" height="82.4"/>
<rect x="161.88" y="476.1" width="0.35" height="82.4"/>
<rect x="163.69" y="476.1" width="0.35" height="82.4"/>
<rect x="165.5" y="476.1" width="0.35" height="82.4"/>
<rect x="167.31" y="476.1" width="0.35" height="82.4"/>
<rect x="169.12" y="476.1" width="0.35" height="82.4"/>
<rect x="170.93" y="476.1" width="0.35" height="82.4"/>
<rect x="172.73" y="476.1" width="0.35" height="82.4"/>
<rect x="174.54" y="476.1" width="0.35" height="82.4"/>
<rect x="176.35" y="476.1" width="0.35" height="82.4"/>
<rect x="178.16" y="476.1" width="0.35" height="82.4"/>
<rect x="179.97" y="476.1" width="0.35" height="82.4"/>
<rect x="181.78" y="476.1" width="0.35" height="82.4"/>
<rect x="183.59" y="476.1" width="0.35" height="82.4"/>
<rect x="185.41" y="476.1" width="0.35" height="82.4"/>
<rect x="187.22" y="476.1" width="0.35" height="82.4"/>
<rect x="189.03" y="476.1" width="0.35" height="82.4"/>
<rect x="190.83" y="476.1" width="0.35" height="82.4"/>
<rect x="192.64" y="476.1" width="0.35" height="82.4"/>
<rect x="194.45" y="476.1" width="0.35" height="82.4"/>
<rect x="196.26" y="476.1" width="0.35" height="82.4"/>
<rect x="198.07" y="476.1" width="0.35" height="82.4"/>
<rect x="199.88" y="476.1" width="0.35" height="82.4"/>
<rect x="201.69" y="476.1" width="0.35" height="82.4"/>
<rect x="203.5" y="476.1" width="0.35" height="82.4"/>
<rect x="205.31" y="476.1" width="0.35" height="82.4"/>
<rect x="207.12" y="476.1" width="0.35" height="82.4"/>
<rect x="212.13" y="476.1" width="0.35" height="82.4"/>
<rect x="213.94" y="476.1" width="0.35" height="82.4"/>
<rect x="215.75" y="476.1" width="0.35" height="82.4"/>
<rect x="217.56" y="476.1" width="0.35" height="82.4"/>
<rect x="219.38" y="476.1" width="0.35" height="82.4"/>
<rect x="221.19" y="476.1" width="0.35" height="82.4"/>
<rect x="222.99" y="476.1" width="0.35" height="82.4"/>
<rect x="224.8" y="476.1" width="0.35" height="82.4"/>
<rect x="226.61" y="476.1" width="0.35" height="82.4"/>
<rect x="228.42" y="476.1" width="0.35" height="82.4"/>
<rect x="230.23" y="476.1" width="0.35" height="82.4"/>
<rect x="232.04" y="476.1" width="0.35" height="82.4"/>
<rect x="233.85" y="476.1" width="0.35" height="82.4"/>
<rect x="235.66" y="476.1" width="0.35" height="82.4"/>
<rect x="237.47" y="476.1" width="0.35" height="82.4"/>
<rect x="239.28" y="476.1" width="0.35" height="82.4"/>
<rect x="241.09" y="476.1" width="0.35" height="82.4"/>
<rect x="242.9" y="476.1" width="0.35" height="82.4"/>
<rect x="244.71" y="476.1" width="0.35" height="82.4"/>
<rect x="246.52" y="476.1" width="0.35" height="82.4"/>
<rect x="248.33" y="476.1" width="0.35" height="82.4"/>
<rect x="250.14" y="476.1" width="0.35" height="82.4"/>
<rect x="251.95" y="476.1" width="0.35" height="82.4"/>
<rect x="253.76" y="476.1" width="0.35" height="82.4"/>
<rect x="255.57" y="476.1" width="0.35" height="82.4"/>
<rect x="257.38" y="476.1" width="0.35" height="82.4"/>
<rect x="259.19" y="476.1" width="0.35" height="82.4"/>
<rect x="261" y="476.1" width="0.35" height="82.4"/>
<rect x="262.81" y="476.1" width="0.35" height="82.4"/>
<rect x="264.62" y="476.1" width="0.35" height="82.4"/>
<rect x="266.44" y="476.1" width="0.35" height="82.4"/>
<rect x="268.25" y="476.1" width="0.35" height="82.4"/>
<rect x="270.06" y="476.1" width="0.35" height="82.4"/>
<rect x="271.87" y="476.1" width="0.35" height="82.4"/>
<rect x="273.68" y="476.1" width="0.35" height="82.4"/>
<rect x="275.48" y="476.1" width="0.35" height="82.4"/>
<rect x="277.3" y="476.1" width="0.35" height="82.4"/>
<rect x="279.1" y="476.1" width="0.35" height="82.4"/>
<rect x="280.92" y="476.1" width="0.35" height="82.4"/>
<rect x="282.72" y="476.1" width="0.35" height="82.4"/>
<rect x="284.54" y="476.1" width="0.35" height="82.4"/>
<rect x="286.34" y="476.1" width="0.35" height="82.4"/>
<rect x="288.15" y="476.1" width="0.35" height="82.4"/>
<rect x="289.96" y="476.1" width="0.35" height="82.4"/>
<rect x="291.77" y="476.1" width="0.35" height="82.4"/>
<rect x="293.58" y="476.1" width="0.35" height="82.4"/>
<rect x="295.39" y="476.1" width="0.35" height="82.4"/>
<rect x="297.2" y="476.1" width="0.35" height="82.4"/>
<rect x="299.01" y="476.1" width="0.35" height="82.4"/>
<rect x="300.82" y="476.1" width="0.35" height="82.4"/>
<rect x="302.63" y="476.1" width="0.35" height="82.4"/>
<rect x="304.44" y="476.1" width="0.35" height="82.4"/>
<rect x="306.25" y="476.1" width="0.35" height="82.4"/>
<rect x="308.06" y="476.1" width="0.35" height="82.4"/>
<rect x="309.88" y="476.1" width="0.35" height="82.4"/>
<rect x="311.69" y="476.1" width="0.35" height="82.4"/>
<rect x="313.5" y="476.1" width="0.35" height="82.4"/>
<rect x="315.31" y="476.1" width="0.35" height="82.4"/>
<rect x="317.12" y="476.1" width="0.35" height="82.4"/>
<rect x="318.93" y="476.1" width="0.35" height="82.4"/>
<rect x="320.73" y="476.1" width="0.35" height="82.4"/>
<rect x="322.55" y="476.1" width="0.35" height="82.4"/>
<rect x="324.35" y="476.1" width="0.35" height="82.4"/>
<rect x="326.17" y="476.1" width="0.35" height="82.4"/>
<rect x="327.97" y="476.1" width="0.35" height="82.4"/>
<rect x="329.79" y="476.1" width="0.35" height="82.4"/>
<rect x="331.59" y="476.1" width="0.35" height="82.4"/>
<rect x="333.4" y="476.1" width="0.35" height="82.4"/>
<rect x="335.21" y="476.1" width="0.35" height="82.4"/>
<rect x="337.02" y="476.1" width="0.35" height="82.4"/>
<rect x="338.83" y="476.1" width="0.35" height="82.4"/>
<rect x="340.64" y="476.1" width="0.35" height="82.4"/>
<rect x="342.45" y="476.1" width="0.35" height="82.4"/>
<rect x="344.26" y="476.1" width="0.35" height="82.4"/>
<rect x="346.07" y="476.1" width="0.35" height="82.4"/>
<rect x="347.88" y="476.1" width="0.35" height="82.4"/>
<rect x="349.69" y="476.1" width="0.35" height="82.4"/>
<rect x="351.5" y="476.1" width="0.35" height="82.4"/>
<rect x="353.31" y="476.1" width="0.35" height="82.4"/>
<rect x="355.12" y="476.1" width="0.35" height="82.4"/>
<rect x="356.94" y="476.1" width="0.35" height="82.4"/>
<rect x="358.75" y="476.1" width="0.35" height="82.4"/>
<rect x="360.56" y="476.1" width="0.35" height="82.4"/>
<rect x="362.36" y="476.1" width="0.35" height="82.4"/>
<rect x="364.18" y="476.1" width="0.35" height="82.4"/>
<rect x="365.98" y="476.1" width="0.35" height="82.4"/>
<rect x="367.8" y="476.1" width="0.35" height="82.4"/>
<rect x="369.6" y="476.1" width="0.35" height="82.4"/>
<rect x="371.42" y="476.1" width="0.35" height="82.4"/>
<rect x="373.22" y="476.1" width="0.35" height="82.4"/>
<rect x="375.04" y="476.1" width="0.35" height="82.4"/>
<rect x="376.84" y="476.1" width="0.35" height="82.4"/>
<rect x="378.66" y="476.1" width="0.35" height="82.4"/>
</g>
<rect x="9.8" y="559.45" width="96.1" height="1.1" fill="#2b2929"/>
<rect x="18.91" y="560" width="1" height="3.3" fill="#2b2929"/>
<text x="19.41" y="573" font-size="7.7" text-anchor="middle">80</text>
<rect x="39.24" y="560" width="1" height="3.3" fill="#2b2929"/>
<text x="39.74" y="573" font-size="7.7" text-anchor="middle">60</text>
<rect x="59.58" y="560" width="1" height="3.3" fill="#2b2929"/>
<text x="60.08" y="573" font-size="7.7" text-anchor="middle">40</text>
<rect x="79.91" y="560" width="1" height="3.3" fill="#2b2929"/>
<text x="80.41" y="573" font-size="7.7" text-anchor="middle">20</text>
<rect x="100.25" y="560" width="1" height="3.3" fill="#2b2929"/>
<text x="100.75" y="573" font-size="7.7" text-anchor="middle">0</text>
<text x="7.5" y="586.7" font-size="9.5" textLength="100.5" lengthAdjust="spacingAndGlyphs">Mutation prevalence (%)</text>
<rect x="421.4" y="559.35" width="91.4" height="1.1" fill="#2b2929"/>
<rect x="425.4" y="560" width="1" height="3.3" fill="#2b2929"/>
<text x="425.9" y="573" font-size="7.7" text-anchor="middle">0</text>
<rect x="448.19" y="560" width="1" height="3.3" fill="#2b2929"/>
<text x="448.69" y="573" font-size="7.7" text-anchor="middle">25</text>
<rect x="470.97" y="560" width="1" height="3.3" fill="#2b2929"/>
<text x="471.47" y="573" font-size="7.7" text-anchor="middle">50</text>
<rect x="493.76" y="560" width="1" height="3.3" fill="#2b2929"/>
<text x="494.26" y="573" font-size="7.7" text-anchor="middle">75</text>
<text x="435.4" y="586.9" font-size="9.5" textLength="63.9" lengthAdjust="spacingAndGlyphs">Mutation count</text>
<text x="135.8" y="581.6" font-size="8.2" textLength="48.4" lengthAdjust="spacingAndGlyphs">Mutation type</text>
<rect x="123.1" y="586.6" width="8.1" height="8.1" fill="#5aa386"/>
<text x="134.9" y="593.6" font-size="8.2" textLength="28.9" lengthAdjust="spacingAndGlyphs" font-style="italic">Missense</text>
<rect x="123.1" y="598.6" width="8.1" height="8.1" fill="#dd9a73"/>
<text x="135.2" y="605.4" font-size="8.2" textLength="61.8" lengthAdjust="spacingAndGlyphs">Truncating/splicing</text>
<rect x="207.4" y="586.6" width="8.1" height="8.1" fill="#c3584a"/>
<text x="218.7" y="593.6" font-size="8.2" textLength="36.3" lengthAdjust="spacingAndGlyphs">Gain (focal)</text>
<rect x="207.4" y="598.5" width="8.1" height="8.1" fill="#eabab7"/>
<text x="218.7" y="605.4" font-size="8.2" textLength="37.2" lengthAdjust="spacingAndGlyphs">Gain (large)</text>
<rect x="265.4" y="586.6" width="8.1" height="8.1" fill="#1893cc"/>
<text x="277" y="593.6" font-size="8.2" textLength="49" lengthAdjust="spacingAndGlyphs">Deletion (focal)</text>
<rect x="265.4" y="598.5" width="8.1" height="8.1" fill="#c2d9ec"/>
<text x="277" y="605.4" font-size="8.2" textLength="49.8" lengthAdjust="spacingAndGlyphs">Deletion (large)</text>
<rect x="337.1" y="586.6" width="8.1" height="8.1" fill="#5a5757"/>
<text x="348.5" y="593.6" font-size="8.2" textLength="40.5" lengthAdjust="spacingAndGlyphs">Multiple hits</text>
<rect x="0" y="0" width="520" height="1" fill="#000"/>
<rect x="0" y="613" width="520" height="1" fill="#000"/>
<rect x="0" y="0" width="1" height="614" fill="#4a4a4a"/>
<rect x="1" y="1" width="1" height="612" fill="#a6a6a6"/>
<rect x="519" y="0" width="1" height="614" fill="#4a4a4a"/>
<rect x="518" y="1" width="1" height="612" fill="#a6a6a6"/>
</svg></div></body></html>
